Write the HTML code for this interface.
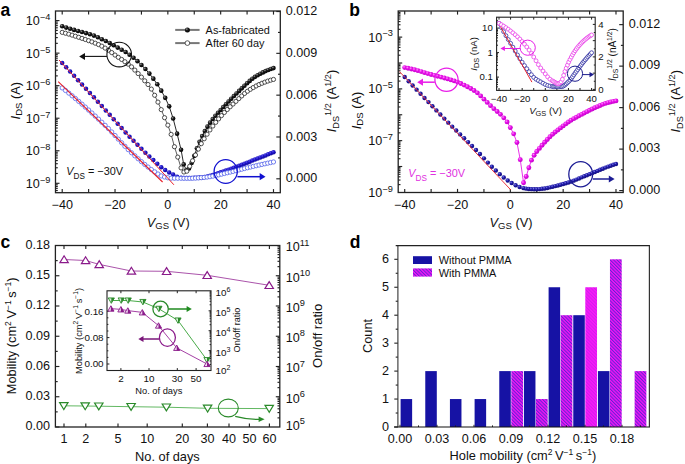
<!DOCTYPE html>
<html><head><meta charset="utf-8"><style>
html,body{margin:0;padding:0;background:#fff;}
svg{display:block;font-family:"Liberation Sans", sans-serif;}
</style></head><body>
<svg width="685" height="464" viewBox="0 0 685 464">
<rect width="685" height="464" fill="#fff"/>
<defs>
<radialGradient id="gk" cx="0.36" cy="0.34" r="0.7"><stop offset="0" stop-color="#9a9a9a"/><stop offset="0.4" stop-color="#1a1a1a"/><stop offset="1" stop-color="#000"/></radialGradient>
<radialGradient id="gm" cx="0.36" cy="0.34" r="0.7"><stop offset="0" stop-color="#ff90ff"/><stop offset="0.4" stop-color="#e810e8"/><stop offset="1" stop-color="#c000c8"/></radialGradient>
<radialGradient id="gb" cx="0.36" cy="0.34" r="0.7"><stop offset="0" stop-color="#5a50f0"/><stop offset="0.45" stop-color="#1c12c4"/><stop offset="1" stop-color="#120a9c"/></radialGradient>
<radialGradient id="gn" cx="0.36" cy="0.34" r="0.7"><stop offset="0" stop-color="#7a7ae8"/><stop offset="0.42" stop-color="#1e18a6"/><stop offset="1" stop-color="#120e7c"/></radialGradient>
<pattern id="hatch" patternUnits="userSpaceOnUse" width="2.4" height="2.4" patternTransform="rotate(-45)"><rect width="2.4" height="2.4" fill="#f414f4"/><rect x="0" y="0" width="1.0" height="2.4" fill="#6224d4"/></pattern>
<pattern id="hatch2" patternUnits="userSpaceOnUse" width="2.4" height="2.4" patternTransform="rotate(-45)"><rect width="2.4" height="2.4" fill="#fa18fa"/><rect x="0" y="0" width="1.0" height="2.4" fill="#d020ea"/></pattern>
</defs>
<text transform="translate(0.6,15.5)" font-size="17.5" font-weight="bold" fill="#000">a</text>
<line x1="62.21" y1="192.7" x2="62.21" y2="189.1" stroke="#222" stroke-width="1.15"/>
<line x1="62.21" y1="11" x2="62.21" y2="14.6" stroke="#222" stroke-width="1.15"/>
<line x1="88.62" y1="192.7" x2="88.62" y2="189.1" stroke="#222" stroke-width="1.15"/>
<line x1="88.62" y1="11" x2="88.62" y2="14.6" stroke="#222" stroke-width="1.15"/>
<line x1="115.03" y1="192.7" x2="115.03" y2="189.1" stroke="#222" stroke-width="1.15"/>
<line x1="115.03" y1="11" x2="115.03" y2="14.6" stroke="#222" stroke-width="1.15"/>
<line x1="141.44" y1="192.7" x2="141.44" y2="189.1" stroke="#222" stroke-width="1.15"/>
<line x1="141.44" y1="11" x2="141.44" y2="14.6" stroke="#222" stroke-width="1.15"/>
<line x1="167.85" y1="192.7" x2="167.85" y2="189.1" stroke="#222" stroke-width="1.15"/>
<line x1="167.85" y1="11" x2="167.85" y2="14.6" stroke="#222" stroke-width="1.15"/>
<line x1="194.26" y1="192.7" x2="194.26" y2="189.1" stroke="#222" stroke-width="1.15"/>
<line x1="194.26" y1="11" x2="194.26" y2="14.6" stroke="#222" stroke-width="1.15"/>
<line x1="220.67" y1="192.7" x2="220.67" y2="189.1" stroke="#222" stroke-width="1.15"/>
<line x1="220.67" y1="11" x2="220.67" y2="14.6" stroke="#222" stroke-width="1.15"/>
<line x1="247.08" y1="192.7" x2="247.08" y2="189.1" stroke="#222" stroke-width="1.15"/>
<line x1="247.08" y1="11" x2="247.08" y2="14.6" stroke="#222" stroke-width="1.15"/>
<line x1="273.49" y1="192.7" x2="273.49" y2="189.1" stroke="#222" stroke-width="1.15"/>
<line x1="273.49" y1="11" x2="273.49" y2="14.6" stroke="#222" stroke-width="1.15"/>
<text transform="translate(62.21,208.6) scale(1.05,1)" font-size="12" text-anchor="middle" fill="#111">−40</text>
<text transform="translate(115.03,208.6) scale(1.05,1)" font-size="12" text-anchor="middle" fill="#111">−20</text>
<text transform="translate(167.85,208.6) scale(1.05,1)" font-size="12" text-anchor="middle" fill="#111">0</text>
<text transform="translate(220.67,208.6) scale(1.05,1)" font-size="12" text-anchor="middle" fill="#111">20</text>
<text transform="translate(273.49,208.6) scale(1.05,1)" font-size="12" text-anchor="middle" fill="#111">40</text>
<line x1="55.5" y1="190.52" x2="57.8" y2="190.52" stroke="#222" stroke-width="1.15"/>
<line x1="55.5" y1="188.34" x2="57.8" y2="188.34" stroke="#222" stroke-width="1.15"/>
<line x1="55.5" y1="186.45" x2="57.8" y2="186.45" stroke="#222" stroke-width="1.15"/>
<line x1="55.5" y1="184.79" x2="57.8" y2="184.79" stroke="#222" stroke-width="1.15"/>
<line x1="55.5" y1="183.3" x2="59.5" y2="183.3" stroke="#222" stroke-width="1.15"/>
<line x1="55.5" y1="173.5" x2="57.8" y2="173.5" stroke="#222" stroke-width="1.15"/>
<line x1="55.5" y1="167.77" x2="57.8" y2="167.77" stroke="#222" stroke-width="1.15"/>
<line x1="55.5" y1="163.71" x2="57.8" y2="163.71" stroke="#222" stroke-width="1.15"/>
<line x1="55.5" y1="160.56" x2="57.8" y2="160.56" stroke="#222" stroke-width="1.15"/>
<line x1="55.5" y1="157.98" x2="57.8" y2="157.98" stroke="#222" stroke-width="1.15"/>
<line x1="55.5" y1="155.8" x2="57.8" y2="155.8" stroke="#222" stroke-width="1.15"/>
<line x1="55.5" y1="153.91" x2="57.8" y2="153.91" stroke="#222" stroke-width="1.15"/>
<line x1="55.5" y1="152.25" x2="57.8" y2="152.25" stroke="#222" stroke-width="1.15"/>
<line x1="55.5" y1="150.76" x2="59.5" y2="150.76" stroke="#222" stroke-width="1.15"/>
<line x1="55.5" y1="140.96" x2="57.8" y2="140.96" stroke="#222" stroke-width="1.15"/>
<line x1="55.5" y1="135.23" x2="57.8" y2="135.23" stroke="#222" stroke-width="1.15"/>
<line x1="55.5" y1="131.17" x2="57.8" y2="131.17" stroke="#222" stroke-width="1.15"/>
<line x1="55.5" y1="128.02" x2="57.8" y2="128.02" stroke="#222" stroke-width="1.15"/>
<line x1="55.5" y1="125.44" x2="57.8" y2="125.44" stroke="#222" stroke-width="1.15"/>
<line x1="55.5" y1="123.26" x2="57.8" y2="123.26" stroke="#222" stroke-width="1.15"/>
<line x1="55.5" y1="121.37" x2="57.8" y2="121.37" stroke="#222" stroke-width="1.15"/>
<line x1="55.5" y1="119.71" x2="57.8" y2="119.71" stroke="#222" stroke-width="1.15"/>
<line x1="55.5" y1="118.22" x2="59.5" y2="118.22" stroke="#222" stroke-width="1.15"/>
<line x1="55.5" y1="108.42" x2="57.8" y2="108.42" stroke="#222" stroke-width="1.15"/>
<line x1="55.5" y1="102.69" x2="57.8" y2="102.69" stroke="#222" stroke-width="1.15"/>
<line x1="55.5" y1="98.63" x2="57.8" y2="98.63" stroke="#222" stroke-width="1.15"/>
<line x1="55.5" y1="95.48" x2="57.8" y2="95.48" stroke="#222" stroke-width="1.15"/>
<line x1="55.5" y1="92.9" x2="57.8" y2="92.9" stroke="#222" stroke-width="1.15"/>
<line x1="55.5" y1="90.72" x2="57.8" y2="90.72" stroke="#222" stroke-width="1.15"/>
<line x1="55.5" y1="88.83" x2="57.8" y2="88.83" stroke="#222" stroke-width="1.15"/>
<line x1="55.5" y1="87.17" x2="57.8" y2="87.17" stroke="#222" stroke-width="1.15"/>
<line x1="55.5" y1="85.68" x2="59.5" y2="85.68" stroke="#222" stroke-width="1.15"/>
<line x1="55.5" y1="75.88" x2="57.8" y2="75.88" stroke="#222" stroke-width="1.15"/>
<line x1="55.5" y1="70.15" x2="57.8" y2="70.15" stroke="#222" stroke-width="1.15"/>
<line x1="55.5" y1="66.09" x2="57.8" y2="66.09" stroke="#222" stroke-width="1.15"/>
<line x1="55.5" y1="62.94" x2="57.8" y2="62.94" stroke="#222" stroke-width="1.15"/>
<line x1="55.5" y1="60.36" x2="57.8" y2="60.36" stroke="#222" stroke-width="1.15"/>
<line x1="55.5" y1="58.18" x2="57.8" y2="58.18" stroke="#222" stroke-width="1.15"/>
<line x1="55.5" y1="56.29" x2="57.8" y2="56.29" stroke="#222" stroke-width="1.15"/>
<line x1="55.5" y1="54.63" x2="57.8" y2="54.63" stroke="#222" stroke-width="1.15"/>
<line x1="55.5" y1="53.14" x2="59.5" y2="53.14" stroke="#222" stroke-width="1.15"/>
<line x1="55.5" y1="43.34" x2="57.8" y2="43.34" stroke="#222" stroke-width="1.15"/>
<line x1="55.5" y1="37.61" x2="57.8" y2="37.61" stroke="#222" stroke-width="1.15"/>
<line x1="55.5" y1="33.55" x2="57.8" y2="33.55" stroke="#222" stroke-width="1.15"/>
<line x1="55.5" y1="30.4" x2="57.8" y2="30.4" stroke="#222" stroke-width="1.15"/>
<line x1="55.5" y1="27.82" x2="57.8" y2="27.82" stroke="#222" stroke-width="1.15"/>
<line x1="55.5" y1="25.64" x2="57.8" y2="25.64" stroke="#222" stroke-width="1.15"/>
<line x1="55.5" y1="23.75" x2="57.8" y2="23.75" stroke="#222" stroke-width="1.15"/>
<line x1="55.5" y1="22.09" x2="57.8" y2="22.09" stroke="#222" stroke-width="1.15"/>
<line x1="55.5" y1="20.6" x2="59.5" y2="20.6" stroke="#222" stroke-width="1.15"/>
<text transform="translate(50.3,188) scale(1.05,1)" font-size="12" text-anchor="end" fill="#111">10<tspan dy="-5.3" font-size="8.8">−9</tspan></text>
<text transform="translate(50.3,155.46) scale(1.05,1)" font-size="12" text-anchor="end" fill="#111">10<tspan dy="-5.3" font-size="8.8">−8</tspan></text>
<text transform="translate(50.3,122.92) scale(1.05,1)" font-size="12" text-anchor="end" fill="#111">10<tspan dy="-5.3" font-size="8.8">−7</tspan></text>
<text transform="translate(50.3,90.38) scale(1.05,1)" font-size="12" text-anchor="end" fill="#111">10<tspan dy="-5.3" font-size="8.8">−6</tspan></text>
<text transform="translate(50.3,57.84) scale(1.05,1)" font-size="12" text-anchor="end" fill="#111">10<tspan dy="-5.3" font-size="8.8">−5</tspan></text>
<text transform="translate(50.3,25.3) scale(1.05,1)" font-size="12" text-anchor="end" fill="#111">10<tspan dy="-5.3" font-size="8.8">−4</tspan></text>
<line x1="280.3" y1="178.8" x2="276.3" y2="178.8" stroke="#222" stroke-width="1.15"/>
<line x1="280.3" y1="157.89" x2="278" y2="157.89" stroke="#222" stroke-width="1.15"/>
<line x1="280.3" y1="136.98" x2="276.3" y2="136.98" stroke="#222" stroke-width="1.15"/>
<line x1="280.3" y1="116.07" x2="278" y2="116.07" stroke="#222" stroke-width="1.15"/>
<line x1="280.3" y1="95.16" x2="276.3" y2="95.16" stroke="#222" stroke-width="1.15"/>
<line x1="280.3" y1="74.25" x2="278" y2="74.25" stroke="#222" stroke-width="1.15"/>
<line x1="280.3" y1="53.34" x2="276.3" y2="53.34" stroke="#222" stroke-width="1.15"/>
<line x1="280.3" y1="32.43" x2="278" y2="32.43" stroke="#222" stroke-width="1.15"/>
<line x1="280.3" y1="11.52" x2="276.3" y2="11.52" stroke="#222" stroke-width="1.15"/>
<text transform="translate(285.8,182.4) scale(1.05,1)" font-size="12" fill="#111">0.000</text>
<text transform="translate(285.8,140.58) scale(1.05,1)" font-size="12" fill="#111">0.003</text>
<text transform="translate(285.8,98.76) scale(1.05,1)" font-size="12" fill="#111">0.006</text>
<text transform="translate(285.8,56.94) scale(1.05,1)" font-size="12" fill="#111">0.009</text>
<text transform="translate(285.8,15.12) scale(1.05,1)" font-size="12" fill="#111">0.012</text>
<text transform="translate(168.2,226.6)" font-size="12.8" text-anchor="middle" fill="#111"><tspan font-style="italic">V</tspan><tspan dy="2.6" font-size="9.5">GS</tspan><tspan dy="-2.6"> (V)</tspan></text>
<text transform="translate(19.6,100.7) rotate(-90)" font-size="12.8" text-anchor="middle" fill="#111"><tspan font-style="italic">I</tspan><tspan dy="2.6" font-size="9.5">DS</tspan><tspan dy="-2.6"> (A)</tspan></text>
<text transform="translate(336.2,101) rotate(-90)" font-size="12.8" text-anchor="middle" fill="#111"><tspan font-style="italic">I</tspan><tspan dy="2.4" font-size="9.2">DS</tspan><tspan dy="-7.4" font-size="9.2">1/2</tspan><tspan dy="5"> (A</tspan><tspan dy="-5" font-size="9.2">1/2</tspan><tspan dy="5">)</tspan></text>
<text transform="translate(66.2,174.8) scale(0.99,1)" font-size="11" fill="#111"><tspan font-style="italic">V</tspan><tspan dy="3.9" font-size="8.3">DS</tspan><tspan dy="-3.9"> = −30V</tspan></text>
<line x1="175.2" y1="29.9" x2="199.6" y2="29.9" stroke="#777" stroke-width="2"/>
<circle cx="187.4" cy="29.9" r="2.5" fill="url(#gk)"/>
<line x1="175.2" y1="43.1" x2="199.6" y2="43.1" stroke="#777" stroke-width="2"/>
<circle cx="187.4" cy="43.1" r="2.35" fill="#fff" stroke="#333" stroke-width="0.8"/>
<text transform="translate(205.6,33.6) scale(1.06,1)" font-size="10.3" fill="#111">As-fabricated</text>
<text transform="translate(205.6,46.6) scale(1.06,1)" font-size="10.3" fill="#111">After 60 day</text>
<polyline points="62.21,32.37 65.51,33.22 68.81,34.14 72.11,35.14 75.41,36.21 78.72,37.3 82.02,38.38 85.32,39.5 88.62,40.66 91.92,41.87 95.22,43.17 98.52,44.57 101.82,46.17 105.13,48.09 108.43,50.25 111.73,52.58 115.03,55.06 118.33,57.33 121.63,59.46 124.93,61.73 128.23,64.15 131.54,66.87 134.84,70.11 138.14,73.57 141.44,77.13 144.74,80.83 148.04,84.52 151.34,89.07 154.64,95.25 157.95,102.11 161.25,109.64 164.55,117.69 167.85,125.13 171.15,134.4 174.45,146.74 177.75,157.11 181.06,167.92 183.94,171.99 186.83,171.2 189.72,166.28 192.61,160.75 195.5,155.01 198.39,149.1 201.28,143.67 204.16,138.78 207.05,134.22 209.94,129.97 212.83,126.04 215.72,122.35 218.61,118.87 221.5,115.58 224.38,112.45 227.27,109.51 230.16,106.73 233.05,104.03 235.94,101.34 238.83,98.61 241.72,95.93 244.6,93.42 247.49,91.21 250.38,89.3 253.27,87.54 256.16,85.95 259.05,84.53 261.94,83.28 264.82,82.14 267.71,81.1 270.6,80.19 273.49,79.43" fill="none" stroke="#333" stroke-width="0.8" stroke-linejoin="round"/>
<polyline points="62.21,26.31 66.17,27.61 70.13,28.81 74.09,29.89 78.06,30.93 82.02,31.99 85.98,33.09 89.94,34.27 93.9,35.59 97.86,37.3 101.82,39.22 105.79,41.02 109.75,42.93 113.71,45.22 117.67,47.6 121.63,49.75 125.59,52.01 129.56,54.69 133.52,57.73 137.48,61.15 141.44,64.94 145.4,69.07 149.36,73.62 153.32,78.66 157.29,84.28 161.25,90.67 165.21,97.84 169.17,106.33 173.13,118.53 177.09,133.67 181.06,149.7 183.7,164.36 186.34,169.95 188.98,168.56 191.62,162.91 194.26,155.83 196.9,148.25 199.54,141.86 202.18,136.08 204.82,131.09 207.47,126.64 210.11,122.63 212.75,119.02 215.39,115.78 218.03,112.8 220.67,109.94 223.31,107.07 225.95,104.23 228.59,101.43 231.23,98.7 233.88,96.04 236.52,93.46 239.16,90.92 241.8,88.34 244.44,85.77 247.08,83.27 249.72,80.92 252.36,78.77 255,76.87 257.64,75.27 260.28,73.78 262.93,72.38 265.57,71.09 268.21,69.93 270.85,68.94 273.49,68.11" fill="none" stroke="#111" stroke-width="0.9" stroke-linejoin="round"/>
<circle cx="62.21" cy="63.03" r="2.25" fill="url(#gb)"/>
<circle cx="66.17" cy="67.3" r="2.25" fill="url(#gb)"/>
<circle cx="70.13" cy="71.58" r="2.25" fill="url(#gb)"/>
<circle cx="74.09" cy="75.86" r="2.25" fill="url(#gb)"/>
<circle cx="78.06" cy="80.15" r="2.25" fill="url(#gb)"/>
<circle cx="82.02" cy="84.44" r="2.25" fill="url(#gb)"/>
<circle cx="85.98" cy="88.74" r="2.25" fill="url(#gb)"/>
<circle cx="89.94" cy="93.05" r="2.25" fill="url(#gb)"/>
<circle cx="93.9" cy="97.36" r="2.25" fill="url(#gb)"/>
<circle cx="97.86" cy="101.67" r="2.25" fill="url(#gb)"/>
<circle cx="101.82" cy="106" r="2.25" fill="url(#gb)"/>
<circle cx="105.79" cy="110.38" r="2.25" fill="url(#gb)"/>
<circle cx="109.75" cy="114.8" r="2.25" fill="url(#gb)"/>
<circle cx="113.71" cy="119.24" r="2.25" fill="url(#gb)"/>
<circle cx="117.67" cy="123.67" r="2.25" fill="url(#gb)"/>
<circle cx="121.63" cy="128.07" r="2.25" fill="url(#gb)"/>
<circle cx="125.59" cy="132.4" r="2.25" fill="url(#gb)"/>
<circle cx="129.56" cy="136.66" r="2.25" fill="url(#gb)"/>
<circle cx="133.52" cy="140.8" r="2.25" fill="url(#gb)"/>
<circle cx="137.48" cy="144.83" r="2.25" fill="url(#gb)"/>
<circle cx="141.44" cy="148.77" r="2.25" fill="url(#gb)"/>
<circle cx="145.4" cy="152.63" r="2.25" fill="url(#gb)"/>
<circle cx="149.36" cy="156.41" r="2.25" fill="url(#gb)"/>
<circle cx="153.32" cy="160.1" r="2.25" fill="url(#gb)"/>
<circle cx="157.29" cy="163.76" r="2.25" fill="url(#gb)"/>
<circle cx="161.25" cy="167.21" r="2.25" fill="url(#gb)"/>
<circle cx="165.21" cy="170.1" r="2.25" fill="url(#gb)"/>
<circle cx="169.17" cy="172.58" r="2.25" fill="url(#gb)"/>
<circle cx="173.13" cy="174.62" r="2.25" fill="url(#gb)"/>
<circle cx="177.09" cy="176.7" r="2.25" fill="url(#gb)"/>
<circle cx="181.06" cy="177.63" r="2.25" fill="url(#gb)"/>
<circle cx="183.7" cy="177.95" r="2.25" fill="url(#gb)"/>
<circle cx="186.34" cy="178" r="2.25" fill="url(#gb)"/>
<circle cx="188.98" cy="177.97" r="2.25" fill="url(#gb)"/>
<circle cx="191.62" cy="177.91" r="2.25" fill="url(#gb)"/>
<circle cx="194.26" cy="177.83" r="2.25" fill="url(#gb)"/>
<circle cx="196.9" cy="177.73" r="2.25" fill="url(#gb)"/>
<circle cx="199.54" cy="177.62" r="2.25" fill="url(#gb)"/>
<circle cx="202.18" cy="177.43" r="2.25" fill="url(#gb)"/>
<circle cx="204.82" cy="177.04" r="2.25" fill="url(#gb)"/>
<circle cx="207.47" cy="176.49" r="2.25" fill="url(#gb)"/>
<circle cx="210.11" cy="175.8" r="2.25" fill="url(#gb)"/>
<circle cx="212.75" cy="175" r="2.25" fill="url(#gb)"/>
<circle cx="215.39" cy="174.13" r="2.25" fill="url(#gb)"/>
<circle cx="218.03" cy="173.22" r="2.25" fill="url(#gb)"/>
<circle cx="220.67" cy="172.29" r="2.25" fill="url(#gb)"/>
<circle cx="223.31" cy="171.38" r="2.25" fill="url(#gb)"/>
<circle cx="225.95" cy="170.52" r="2.25" fill="url(#gb)"/>
<circle cx="228.59" cy="169.65" r="2.25" fill="url(#gb)"/>
<circle cx="231.23" cy="168.74" r="2.25" fill="url(#gb)"/>
<circle cx="233.88" cy="167.78" r="2.25" fill="url(#gb)"/>
<circle cx="236.52" cy="166.79" r="2.25" fill="url(#gb)"/>
<circle cx="239.16" cy="165.78" r="2.25" fill="url(#gb)"/>
<circle cx="241.8" cy="164.75" r="2.25" fill="url(#gb)"/>
<circle cx="244.44" cy="163.71" r="2.25" fill="url(#gb)"/>
<circle cx="247.08" cy="162.67" r="2.25" fill="url(#gb)"/>
<circle cx="249.72" cy="161.64" r="2.25" fill="url(#gb)"/>
<circle cx="252.36" cy="160.62" r="2.25" fill="url(#gb)"/>
<circle cx="255" cy="159.59" r="2.25" fill="url(#gb)"/>
<circle cx="257.64" cy="158.55" r="2.25" fill="url(#gb)"/>
<circle cx="260.28" cy="157.51" r="2.25" fill="url(#gb)"/>
<circle cx="262.93" cy="156.46" r="2.25" fill="url(#gb)"/>
<circle cx="265.57" cy="155.4" r="2.25" fill="url(#gb)"/>
<circle cx="268.21" cy="154.33" r="2.25" fill="url(#gb)"/>
<circle cx="270.85" cy="153.26" r="2.25" fill="url(#gb)"/>
<circle cx="273.49" cy="152.18" r="2.25" fill="url(#gb)"/>
<circle cx="62.21" cy="87.89" r="2.15" fill="#fff" stroke="#4858e8" stroke-width="0.75"/>
<circle cx="65.51" cy="90.46" r="2.15" fill="#fff" stroke="#4858e8" stroke-width="0.75"/>
<circle cx="68.81" cy="93.09" r="2.15" fill="#fff" stroke="#4858e8" stroke-width="0.75"/>
<circle cx="72.11" cy="95.79" r="2.15" fill="#fff" stroke="#4858e8" stroke-width="0.75"/>
<circle cx="75.41" cy="98.54" r="2.15" fill="#fff" stroke="#4858e8" stroke-width="0.75"/>
<circle cx="78.72" cy="101.34" r="2.15" fill="#fff" stroke="#4858e8" stroke-width="0.75"/>
<circle cx="82.02" cy="104.19" r="2.15" fill="#fff" stroke="#4858e8" stroke-width="0.75"/>
<circle cx="85.32" cy="107.1" r="2.15" fill="#fff" stroke="#4858e8" stroke-width="0.75"/>
<circle cx="88.62" cy="110.05" r="2.15" fill="#fff" stroke="#4858e8" stroke-width="0.75"/>
<circle cx="91.92" cy="113.04" r="2.15" fill="#fff" stroke="#4858e8" stroke-width="0.75"/>
<circle cx="95.22" cy="116.07" r="2.15" fill="#fff" stroke="#4858e8" stroke-width="0.75"/>
<circle cx="98.52" cy="119.15" r="2.15" fill="#fff" stroke="#4858e8" stroke-width="0.75"/>
<circle cx="101.82" cy="122.25" r="2.15" fill="#fff" stroke="#4858e8" stroke-width="0.75"/>
<circle cx="105.13" cy="125.39" r="2.15" fill="#fff" stroke="#4858e8" stroke-width="0.75"/>
<circle cx="108.43" cy="128.59" r="2.15" fill="#fff" stroke="#4858e8" stroke-width="0.75"/>
<circle cx="111.73" cy="131.99" r="2.15" fill="#fff" stroke="#4858e8" stroke-width="0.75"/>
<circle cx="115.03" cy="135.54" r="2.15" fill="#fff" stroke="#4858e8" stroke-width="0.75"/>
<circle cx="118.33" cy="139.16" r="2.15" fill="#fff" stroke="#4858e8" stroke-width="0.75"/>
<circle cx="121.63" cy="142.77" r="2.15" fill="#fff" stroke="#4858e8" stroke-width="0.75"/>
<circle cx="124.93" cy="146.29" r="2.15" fill="#fff" stroke="#4858e8" stroke-width="0.75"/>
<circle cx="128.23" cy="149.65" r="2.15" fill="#fff" stroke="#4858e8" stroke-width="0.75"/>
<circle cx="131.54" cy="152.77" r="2.15" fill="#fff" stroke="#4858e8" stroke-width="0.75"/>
<circle cx="134.84" cy="155.79" r="2.15" fill="#fff" stroke="#4858e8" stroke-width="0.75"/>
<circle cx="138.14" cy="158.76" r="2.15" fill="#fff" stroke="#4858e8" stroke-width="0.75"/>
<circle cx="141.44" cy="161.65" r="2.15" fill="#fff" stroke="#4858e8" stroke-width="0.75"/>
<circle cx="144.74" cy="164.43" r="2.15" fill="#fff" stroke="#4858e8" stroke-width="0.75"/>
<circle cx="148.04" cy="167.07" r="2.15" fill="#fff" stroke="#4858e8" stroke-width="0.75"/>
<circle cx="151.34" cy="169.55" r="2.15" fill="#fff" stroke="#4858e8" stroke-width="0.75"/>
<circle cx="154.64" cy="171.84" r="2.15" fill="#fff" stroke="#4858e8" stroke-width="0.75"/>
<circle cx="157.95" cy="174.02" r="2.15" fill="#fff" stroke="#4858e8" stroke-width="0.75"/>
<circle cx="161.25" cy="175.94" r="2.15" fill="#fff" stroke="#4858e8" stroke-width="0.75"/>
<circle cx="164.55" cy="177.01" r="2.15" fill="#fff" stroke="#4858e8" stroke-width="0.75"/>
<circle cx="167.85" cy="177.76" r="2.15" fill="#fff" stroke="#4858e8" stroke-width="0.75"/>
<circle cx="171.15" cy="178.17" r="2.15" fill="#fff" stroke="#4858e8" stroke-width="0.75"/>
<circle cx="174.45" cy="178.23" r="2.15" fill="#fff" stroke="#4858e8" stroke-width="0.75"/>
<circle cx="177.75" cy="178.26" r="2.15" fill="#fff" stroke="#4858e8" stroke-width="0.75"/>
<circle cx="181.06" cy="178.28" r="2.15" fill="#fff" stroke="#4858e8" stroke-width="0.75"/>
<circle cx="183.94" cy="178.29" r="2.15" fill="#fff" stroke="#4858e8" stroke-width="0.75"/>
<circle cx="186.83" cy="178.3" r="2.15" fill="#fff" stroke="#4858e8" stroke-width="0.75"/>
<circle cx="189.72" cy="178.3" r="2.15" fill="#fff" stroke="#4858e8" stroke-width="0.75"/>
<circle cx="192.61" cy="178.26" r="2.15" fill="#fff" stroke="#4858e8" stroke-width="0.75"/>
<circle cx="195.5" cy="178.13" r="2.15" fill="#fff" stroke="#4858e8" stroke-width="0.75"/>
<circle cx="198.39" cy="177.93" r="2.15" fill="#fff" stroke="#4858e8" stroke-width="0.75"/>
<circle cx="201.28" cy="177.68" r="2.15" fill="#fff" stroke="#4858e8" stroke-width="0.75"/>
<circle cx="204.16" cy="177.41" r="2.15" fill="#fff" stroke="#4858e8" stroke-width="0.75"/>
<circle cx="207.05" cy="177.11" r="2.15" fill="#fff" stroke="#4858e8" stroke-width="0.75"/>
<circle cx="209.94" cy="176.68" r="2.15" fill="#fff" stroke="#4858e8" stroke-width="0.75"/>
<circle cx="212.83" cy="176.15" r="2.15" fill="#fff" stroke="#4858e8" stroke-width="0.75"/>
<circle cx="215.72" cy="175.53" r="2.15" fill="#fff" stroke="#4858e8" stroke-width="0.75"/>
<circle cx="218.61" cy="174.86" r="2.15" fill="#fff" stroke="#4858e8" stroke-width="0.75"/>
<circle cx="221.5" cy="174.16" r="2.15" fill="#fff" stroke="#4858e8" stroke-width="0.75"/>
<circle cx="224.38" cy="173.45" r="2.15" fill="#fff" stroke="#4858e8" stroke-width="0.75"/>
<circle cx="227.27" cy="172.77" r="2.15" fill="#fff" stroke="#4858e8" stroke-width="0.75"/>
<circle cx="230.16" cy="172.1" r="2.15" fill="#fff" stroke="#4858e8" stroke-width="0.75"/>
<circle cx="233.05" cy="171.4" r="2.15" fill="#fff" stroke="#4858e8" stroke-width="0.75"/>
<circle cx="235.94" cy="170.68" r="2.15" fill="#fff" stroke="#4858e8" stroke-width="0.75"/>
<circle cx="238.83" cy="169.94" r="2.15" fill="#fff" stroke="#4858e8" stroke-width="0.75"/>
<circle cx="241.72" cy="169.2" r="2.15" fill="#fff" stroke="#4858e8" stroke-width="0.75"/>
<circle cx="244.6" cy="168.47" r="2.15" fill="#fff" stroke="#4858e8" stroke-width="0.75"/>
<circle cx="247.49" cy="167.75" r="2.15" fill="#fff" stroke="#4858e8" stroke-width="0.75"/>
<circle cx="250.38" cy="167.05" r="2.15" fill="#fff" stroke="#4858e8" stroke-width="0.75"/>
<circle cx="253.27" cy="166.38" r="2.15" fill="#fff" stroke="#4858e8" stroke-width="0.75"/>
<circle cx="256.16" cy="165.72" r="2.15" fill="#fff" stroke="#4858e8" stroke-width="0.75"/>
<circle cx="259.05" cy="165.06" r="2.15" fill="#fff" stroke="#4858e8" stroke-width="0.75"/>
<circle cx="261.94" cy="164.42" r="2.15" fill="#fff" stroke="#4858e8" stroke-width="0.75"/>
<circle cx="264.82" cy="163.78" r="2.15" fill="#fff" stroke="#4858e8" stroke-width="0.75"/>
<circle cx="267.71" cy="163.16" r="2.15" fill="#fff" stroke="#4858e8" stroke-width="0.75"/>
<circle cx="270.6" cy="162.54" r="2.15" fill="#fff" stroke="#4858e8" stroke-width="0.75"/>
<circle cx="273.49" cy="161.94" r="2.15" fill="#fff" stroke="#4858e8" stroke-width="0.75"/>
<line x1="58.2" y1="81.6" x2="162.6" y2="182" stroke="#e8202a" stroke-width="1.1"/>
<line x1="59" y1="60" x2="173.9" y2="184.8" stroke="#e8202a" stroke-width="1"/>
<circle cx="62.21" cy="26.31" r="2.3" fill="url(#gk)"/>
<circle cx="66.17" cy="27.61" r="2.3" fill="url(#gk)"/>
<circle cx="70.13" cy="28.81" r="2.3" fill="url(#gk)"/>
<circle cx="74.09" cy="29.89" r="2.3" fill="url(#gk)"/>
<circle cx="78.06" cy="30.93" r="2.3" fill="url(#gk)"/>
<circle cx="82.02" cy="31.99" r="2.3" fill="url(#gk)"/>
<circle cx="85.98" cy="33.09" r="2.3" fill="url(#gk)"/>
<circle cx="89.94" cy="34.27" r="2.3" fill="url(#gk)"/>
<circle cx="93.9" cy="35.59" r="2.3" fill="url(#gk)"/>
<circle cx="97.86" cy="37.3" r="2.3" fill="url(#gk)"/>
<circle cx="101.82" cy="39.22" r="2.3" fill="url(#gk)"/>
<circle cx="105.79" cy="41.02" r="2.3" fill="url(#gk)"/>
<circle cx="109.75" cy="42.93" r="2.3" fill="url(#gk)"/>
<circle cx="113.71" cy="45.22" r="2.3" fill="url(#gk)"/>
<circle cx="117.67" cy="47.6" r="2.3" fill="url(#gk)"/>
<circle cx="121.63" cy="49.75" r="2.3" fill="url(#gk)"/>
<circle cx="125.59" cy="52.01" r="2.3" fill="url(#gk)"/>
<circle cx="129.56" cy="54.69" r="2.3" fill="url(#gk)"/>
<circle cx="133.52" cy="57.73" r="2.3" fill="url(#gk)"/>
<circle cx="137.48" cy="61.15" r="2.3" fill="url(#gk)"/>
<circle cx="141.44" cy="64.94" r="2.3" fill="url(#gk)"/>
<circle cx="145.4" cy="69.07" r="2.3" fill="url(#gk)"/>
<circle cx="149.36" cy="73.62" r="2.3" fill="url(#gk)"/>
<circle cx="153.32" cy="78.66" r="2.3" fill="url(#gk)"/>
<circle cx="157.29" cy="84.28" r="2.3" fill="url(#gk)"/>
<circle cx="161.25" cy="90.67" r="2.3" fill="url(#gk)"/>
<circle cx="165.21" cy="97.84" r="2.3" fill="url(#gk)"/>
<circle cx="169.17" cy="106.33" r="2.3" fill="url(#gk)"/>
<circle cx="173.13" cy="118.53" r="2.3" fill="url(#gk)"/>
<circle cx="177.09" cy="133.67" r="2.3" fill="url(#gk)"/>
<circle cx="181.06" cy="149.7" r="2.3" fill="url(#gk)"/>
<circle cx="183.7" cy="164.36" r="2.3" fill="url(#gk)"/>
<circle cx="186.34" cy="169.95" r="2.3" fill="url(#gk)"/>
<circle cx="188.98" cy="168.56" r="2.3" fill="url(#gk)"/>
<circle cx="191.62" cy="162.91" r="2.3" fill="url(#gk)"/>
<circle cx="194.26" cy="155.83" r="2.3" fill="url(#gk)"/>
<circle cx="196.9" cy="148.25" r="2.3" fill="url(#gk)"/>
<circle cx="199.54" cy="141.86" r="2.3" fill="url(#gk)"/>
<circle cx="202.18" cy="136.08" r="2.3" fill="url(#gk)"/>
<circle cx="204.82" cy="131.09" r="2.3" fill="url(#gk)"/>
<circle cx="207.47" cy="126.64" r="2.3" fill="url(#gk)"/>
<circle cx="210.11" cy="122.63" r="2.3" fill="url(#gk)"/>
<circle cx="212.75" cy="119.02" r="2.3" fill="url(#gk)"/>
<circle cx="215.39" cy="115.78" r="2.3" fill="url(#gk)"/>
<circle cx="218.03" cy="112.8" r="2.3" fill="url(#gk)"/>
<circle cx="220.67" cy="109.94" r="2.3" fill="url(#gk)"/>
<circle cx="223.31" cy="107.07" r="2.3" fill="url(#gk)"/>
<circle cx="225.95" cy="104.23" r="2.3" fill="url(#gk)"/>
<circle cx="228.59" cy="101.43" r="2.3" fill="url(#gk)"/>
<circle cx="231.23" cy="98.7" r="2.3" fill="url(#gk)"/>
<circle cx="233.88" cy="96.04" r="2.3" fill="url(#gk)"/>
<circle cx="236.52" cy="93.46" r="2.3" fill="url(#gk)"/>
<circle cx="239.16" cy="90.92" r="2.3" fill="url(#gk)"/>
<circle cx="241.8" cy="88.34" r="2.3" fill="url(#gk)"/>
<circle cx="244.44" cy="85.77" r="2.3" fill="url(#gk)"/>
<circle cx="247.08" cy="83.27" r="2.3" fill="url(#gk)"/>
<circle cx="249.72" cy="80.92" r="2.3" fill="url(#gk)"/>
<circle cx="252.36" cy="78.77" r="2.3" fill="url(#gk)"/>
<circle cx="255" cy="76.87" r="2.3" fill="url(#gk)"/>
<circle cx="257.64" cy="75.27" r="2.3" fill="url(#gk)"/>
<circle cx="260.28" cy="73.78" r="2.3" fill="url(#gk)"/>
<circle cx="262.93" cy="72.38" r="2.3" fill="url(#gk)"/>
<circle cx="265.57" cy="71.09" r="2.3" fill="url(#gk)"/>
<circle cx="268.21" cy="69.93" r="2.3" fill="url(#gk)"/>
<circle cx="270.85" cy="68.94" r="2.3" fill="url(#gk)"/>
<circle cx="273.49" cy="68.11" r="2.3" fill="url(#gk)"/>
<circle cx="62.21" cy="32.37" r="2.1" fill="#fff" stroke="#222" stroke-width="0.8"/>
<circle cx="65.51" cy="33.22" r="2.1" fill="#fff" stroke="#222" stroke-width="0.8"/>
<circle cx="68.81" cy="34.14" r="2.1" fill="#fff" stroke="#222" stroke-width="0.8"/>
<circle cx="72.11" cy="35.14" r="2.1" fill="#fff" stroke="#222" stroke-width="0.8"/>
<circle cx="75.41" cy="36.21" r="2.1" fill="#fff" stroke="#222" stroke-width="0.8"/>
<circle cx="78.72" cy="37.3" r="2.1" fill="#fff" stroke="#222" stroke-width="0.8"/>
<circle cx="82.02" cy="38.38" r="2.1" fill="#fff" stroke="#222" stroke-width="0.8"/>
<circle cx="85.32" cy="39.5" r="2.1" fill="#fff" stroke="#222" stroke-width="0.8"/>
<circle cx="88.62" cy="40.66" r="2.1" fill="#fff" stroke="#222" stroke-width="0.8"/>
<circle cx="91.92" cy="41.87" r="2.1" fill="#fff" stroke="#222" stroke-width="0.8"/>
<circle cx="95.22" cy="43.17" r="2.1" fill="#fff" stroke="#222" stroke-width="0.8"/>
<circle cx="98.52" cy="44.57" r="2.1" fill="#fff" stroke="#222" stroke-width="0.8"/>
<circle cx="101.82" cy="46.17" r="2.1" fill="#fff" stroke="#222" stroke-width="0.8"/>
<circle cx="105.13" cy="48.09" r="2.1" fill="#fff" stroke="#222" stroke-width="0.8"/>
<circle cx="108.43" cy="50.25" r="2.1" fill="#fff" stroke="#222" stroke-width="0.8"/>
<circle cx="111.73" cy="52.58" r="2.1" fill="#fff" stroke="#222" stroke-width="0.8"/>
<circle cx="115.03" cy="55.06" r="2.1" fill="#fff" stroke="#222" stroke-width="0.8"/>
<circle cx="118.33" cy="57.33" r="2.1" fill="#fff" stroke="#222" stroke-width="0.8"/>
<circle cx="121.63" cy="59.46" r="2.1" fill="#fff" stroke="#222" stroke-width="0.8"/>
<circle cx="124.93" cy="61.73" r="2.1" fill="#fff" stroke="#222" stroke-width="0.8"/>
<circle cx="128.23" cy="64.15" r="2.1" fill="#fff" stroke="#222" stroke-width="0.8"/>
<circle cx="131.54" cy="66.87" r="2.1" fill="#fff" stroke="#222" stroke-width="0.8"/>
<circle cx="134.84" cy="70.11" r="2.1" fill="#fff" stroke="#222" stroke-width="0.8"/>
<circle cx="138.14" cy="73.57" r="2.1" fill="#fff" stroke="#222" stroke-width="0.8"/>
<circle cx="141.44" cy="77.13" r="2.1" fill="#fff" stroke="#222" stroke-width="0.8"/>
<circle cx="144.74" cy="80.83" r="2.1" fill="#fff" stroke="#222" stroke-width="0.8"/>
<circle cx="148.04" cy="84.52" r="2.1" fill="#fff" stroke="#222" stroke-width="0.8"/>
<circle cx="151.34" cy="89.07" r="2.1" fill="#fff" stroke="#222" stroke-width="0.8"/>
<circle cx="154.64" cy="95.25" r="2.1" fill="#fff" stroke="#222" stroke-width="0.8"/>
<circle cx="157.95" cy="102.11" r="2.1" fill="#fff" stroke="#222" stroke-width="0.8"/>
<circle cx="161.25" cy="109.64" r="2.1" fill="#fff" stroke="#222" stroke-width="0.8"/>
<circle cx="164.55" cy="117.69" r="2.1" fill="#fff" stroke="#222" stroke-width="0.8"/>
<circle cx="167.85" cy="125.13" r="2.1" fill="#fff" stroke="#222" stroke-width="0.8"/>
<circle cx="171.15" cy="134.4" r="2.1" fill="#fff" stroke="#222" stroke-width="0.8"/>
<circle cx="174.45" cy="146.74" r="2.1" fill="#fff" stroke="#222" stroke-width="0.8"/>
<circle cx="177.75" cy="157.11" r="2.1" fill="#fff" stroke="#222" stroke-width="0.8"/>
<circle cx="181.06" cy="167.92" r="2.1" fill="#fff" stroke="#222" stroke-width="0.8"/>
<circle cx="183.94" cy="171.99" r="2.1" fill="#fff" stroke="#222" stroke-width="0.8"/>
<circle cx="186.83" cy="171.2" r="2.1" fill="#fff" stroke="#222" stroke-width="0.8"/>
<circle cx="189.72" cy="166.28" r="2.1" fill="#fff" stroke="#222" stroke-width="0.8"/>
<circle cx="192.61" cy="160.75" r="2.1" fill="#fff" stroke="#222" stroke-width="0.8"/>
<circle cx="195.5" cy="155.01" r="2.1" fill="#fff" stroke="#222" stroke-width="0.8"/>
<circle cx="198.39" cy="149.1" r="2.1" fill="#fff" stroke="#222" stroke-width="0.8"/>
<circle cx="201.28" cy="143.67" r="2.1" fill="#fff" stroke="#222" stroke-width="0.8"/>
<circle cx="204.16" cy="138.78" r="2.1" fill="#fff" stroke="#222" stroke-width="0.8"/>
<circle cx="207.05" cy="134.22" r="2.1" fill="#fff" stroke="#222" stroke-width="0.8"/>
<circle cx="209.94" cy="129.97" r="2.1" fill="#fff" stroke="#222" stroke-width="0.8"/>
<circle cx="212.83" cy="126.04" r="2.1" fill="#fff" stroke="#222" stroke-width="0.8"/>
<circle cx="215.72" cy="122.35" r="2.1" fill="#fff" stroke="#222" stroke-width="0.8"/>
<circle cx="218.61" cy="118.87" r="2.1" fill="#fff" stroke="#222" stroke-width="0.8"/>
<circle cx="221.5" cy="115.58" r="2.1" fill="#fff" stroke="#222" stroke-width="0.8"/>
<circle cx="224.38" cy="112.45" r="2.1" fill="#fff" stroke="#222" stroke-width="0.8"/>
<circle cx="227.27" cy="109.51" r="2.1" fill="#fff" stroke="#222" stroke-width="0.8"/>
<circle cx="230.16" cy="106.73" r="2.1" fill="#fff" stroke="#222" stroke-width="0.8"/>
<circle cx="233.05" cy="104.03" r="2.1" fill="#fff" stroke="#222" stroke-width="0.8"/>
<circle cx="235.94" cy="101.34" r="2.1" fill="#fff" stroke="#222" stroke-width="0.8"/>
<circle cx="238.83" cy="98.61" r="2.1" fill="#fff" stroke="#222" stroke-width="0.8"/>
<circle cx="241.72" cy="95.93" r="2.1" fill="#fff" stroke="#222" stroke-width="0.8"/>
<circle cx="244.6" cy="93.42" r="2.1" fill="#fff" stroke="#222" stroke-width="0.8"/>
<circle cx="247.49" cy="91.21" r="2.1" fill="#fff" stroke="#222" stroke-width="0.8"/>
<circle cx="250.38" cy="89.3" r="2.1" fill="#fff" stroke="#222" stroke-width="0.8"/>
<circle cx="253.27" cy="87.54" r="2.1" fill="#fff" stroke="#222" stroke-width="0.8"/>
<circle cx="256.16" cy="85.95" r="2.1" fill="#fff" stroke="#222" stroke-width="0.8"/>
<circle cx="259.05" cy="84.53" r="2.1" fill="#fff" stroke="#222" stroke-width="0.8"/>
<circle cx="261.94" cy="83.28" r="2.1" fill="#fff" stroke="#222" stroke-width="0.8"/>
<circle cx="264.82" cy="82.14" r="2.1" fill="#fff" stroke="#222" stroke-width="0.8"/>
<circle cx="267.71" cy="81.1" r="2.1" fill="#fff" stroke="#222" stroke-width="0.8"/>
<circle cx="270.6" cy="80.19" r="2.1" fill="#fff" stroke="#222" stroke-width="0.8"/>
<circle cx="273.49" cy="79.43" r="2.1" fill="#fff" stroke="#222" stroke-width="0.8"/>
<ellipse cx="119.2" cy="54.6" rx="12.3" ry="12.3" fill="none" stroke="#111" stroke-width="1.1"/>
<line x1="107" y1="56.4" x2="84.5" y2="56.4" stroke="#111" stroke-width="1.1"/>
<polygon points="79.2,56.4 85,52.9 85,59.9" fill="#111"/>
<ellipse cx="225.7" cy="171.5" rx="11.6" ry="11.8" fill="none" stroke="#1010d0" stroke-width="1.3"/>
<line x1="237.4" y1="176.7" x2="260.2" y2="176.7" stroke="#1010d0" stroke-width="1.5"/>
<polygon points="265.5,176.7 259.7,180.3 259.7,173.1" fill="#1010d0"/>
<rect x="55.5" y="11" width="224.8" height="181.7" fill="none" stroke="#222" stroke-width="1.3"/>
<text transform="translate(349.3,15.6)" font-size="17.5" font-weight="bold" fill="#000">b</text>
<line x1="404.71" y1="192.5" x2="404.71" y2="188.9" stroke="#222" stroke-width="1.15"/>
<line x1="404.71" y1="11" x2="404.71" y2="14.6" stroke="#222" stroke-width="1.15"/>
<line x1="431.12" y1="192.5" x2="431.12" y2="188.9" stroke="#222" stroke-width="1.15"/>
<line x1="431.12" y1="11" x2="431.12" y2="14.6" stroke="#222" stroke-width="1.15"/>
<line x1="457.53" y1="192.5" x2="457.53" y2="188.9" stroke="#222" stroke-width="1.15"/>
<line x1="457.53" y1="11" x2="457.53" y2="14.6" stroke="#222" stroke-width="1.15"/>
<line x1="483.94" y1="192.5" x2="483.94" y2="188.9" stroke="#222" stroke-width="1.15"/>
<line x1="483.94" y1="11" x2="483.94" y2="14.6" stroke="#222" stroke-width="1.15"/>
<line x1="510.35" y1="192.5" x2="510.35" y2="188.9" stroke="#222" stroke-width="1.15"/>
<line x1="510.35" y1="11" x2="510.35" y2="14.6" stroke="#222" stroke-width="1.15"/>
<line x1="536.76" y1="192.5" x2="536.76" y2="188.9" stroke="#222" stroke-width="1.15"/>
<line x1="536.76" y1="11" x2="536.76" y2="14.6" stroke="#222" stroke-width="1.15"/>
<line x1="563.17" y1="192.5" x2="563.17" y2="188.9" stroke="#222" stroke-width="1.15"/>
<line x1="563.17" y1="11" x2="563.17" y2="14.6" stroke="#222" stroke-width="1.15"/>
<line x1="589.58" y1="192.5" x2="589.58" y2="188.9" stroke="#222" stroke-width="1.15"/>
<line x1="589.58" y1="11" x2="589.58" y2="14.6" stroke="#222" stroke-width="1.15"/>
<line x1="615.99" y1="192.5" x2="615.99" y2="188.9" stroke="#222" stroke-width="1.15"/>
<line x1="615.99" y1="11" x2="615.99" y2="14.6" stroke="#222" stroke-width="1.15"/>
<text transform="translate(404.71,208.6) scale(1.05,1)" font-size="12" text-anchor="middle" fill="#111">−40</text>
<text transform="translate(457.53,208.6) scale(1.05,1)" font-size="12" text-anchor="middle" fill="#111">−20</text>
<text transform="translate(510.35,208.6) scale(1.05,1)" font-size="12" text-anchor="middle" fill="#111">0</text>
<text transform="translate(563.17,208.6) scale(1.05,1)" font-size="12" text-anchor="middle" fill="#111">20</text>
<text transform="translate(615.99,208.6) scale(1.05,1)" font-size="12" text-anchor="middle" fill="#111">40</text>
<line x1="398.2" y1="184.61" x2="400.5" y2="184.61" stroke="#222" stroke-width="1.15"/>
<line x1="398.2" y1="180.05" x2="400.5" y2="180.05" stroke="#222" stroke-width="1.15"/>
<line x1="398.2" y1="176.82" x2="400.5" y2="176.82" stroke="#222" stroke-width="1.15"/>
<line x1="398.2" y1="174.31" x2="400.5" y2="174.31" stroke="#222" stroke-width="1.15"/>
<line x1="398.2" y1="172.26" x2="400.5" y2="172.26" stroke="#222" stroke-width="1.15"/>
<line x1="398.2" y1="170.53" x2="400.5" y2="170.53" stroke="#222" stroke-width="1.15"/>
<line x1="398.2" y1="169.03" x2="400.5" y2="169.03" stroke="#222" stroke-width="1.15"/>
<line x1="398.2" y1="167.7" x2="400.5" y2="167.7" stroke="#222" stroke-width="1.15"/>
<line x1="398.2" y1="166.52" x2="402.2" y2="166.52" stroke="#222" stroke-width="1.15"/>
<line x1="398.2" y1="158.73" x2="400.5" y2="158.73" stroke="#222" stroke-width="1.15"/>
<line x1="398.2" y1="154.17" x2="400.5" y2="154.17" stroke="#222" stroke-width="1.15"/>
<line x1="398.2" y1="150.94" x2="400.5" y2="150.94" stroke="#222" stroke-width="1.15"/>
<line x1="398.2" y1="148.43" x2="400.5" y2="148.43" stroke="#222" stroke-width="1.15"/>
<line x1="398.2" y1="146.38" x2="400.5" y2="146.38" stroke="#222" stroke-width="1.15"/>
<line x1="398.2" y1="144.65" x2="400.5" y2="144.65" stroke="#222" stroke-width="1.15"/>
<line x1="398.2" y1="143.15" x2="400.5" y2="143.15" stroke="#222" stroke-width="1.15"/>
<line x1="398.2" y1="141.82" x2="400.5" y2="141.82" stroke="#222" stroke-width="1.15"/>
<line x1="398.2" y1="140.64" x2="402.2" y2="140.64" stroke="#222" stroke-width="1.15"/>
<line x1="398.2" y1="132.85" x2="400.5" y2="132.85" stroke="#222" stroke-width="1.15"/>
<line x1="398.2" y1="128.29" x2="400.5" y2="128.29" stroke="#222" stroke-width="1.15"/>
<line x1="398.2" y1="125.06" x2="400.5" y2="125.06" stroke="#222" stroke-width="1.15"/>
<line x1="398.2" y1="122.55" x2="400.5" y2="122.55" stroke="#222" stroke-width="1.15"/>
<line x1="398.2" y1="120.5" x2="400.5" y2="120.5" stroke="#222" stroke-width="1.15"/>
<line x1="398.2" y1="118.77" x2="400.5" y2="118.77" stroke="#222" stroke-width="1.15"/>
<line x1="398.2" y1="117.27" x2="400.5" y2="117.27" stroke="#222" stroke-width="1.15"/>
<line x1="398.2" y1="115.94" x2="400.5" y2="115.94" stroke="#222" stroke-width="1.15"/>
<line x1="398.2" y1="114.76" x2="402.2" y2="114.76" stroke="#222" stroke-width="1.15"/>
<line x1="398.2" y1="106.97" x2="400.5" y2="106.97" stroke="#222" stroke-width="1.15"/>
<line x1="398.2" y1="102.41" x2="400.5" y2="102.41" stroke="#222" stroke-width="1.15"/>
<line x1="398.2" y1="99.18" x2="400.5" y2="99.18" stroke="#222" stroke-width="1.15"/>
<line x1="398.2" y1="96.67" x2="400.5" y2="96.67" stroke="#222" stroke-width="1.15"/>
<line x1="398.2" y1="94.62" x2="400.5" y2="94.62" stroke="#222" stroke-width="1.15"/>
<line x1="398.2" y1="92.89" x2="400.5" y2="92.89" stroke="#222" stroke-width="1.15"/>
<line x1="398.2" y1="91.39" x2="400.5" y2="91.39" stroke="#222" stroke-width="1.15"/>
<line x1="398.2" y1="90.06" x2="400.5" y2="90.06" stroke="#222" stroke-width="1.15"/>
<line x1="398.2" y1="88.88" x2="402.2" y2="88.88" stroke="#222" stroke-width="1.15"/>
<line x1="398.2" y1="81.09" x2="400.5" y2="81.09" stroke="#222" stroke-width="1.15"/>
<line x1="398.2" y1="76.53" x2="400.5" y2="76.53" stroke="#222" stroke-width="1.15"/>
<line x1="398.2" y1="73.3" x2="400.5" y2="73.3" stroke="#222" stroke-width="1.15"/>
<line x1="398.2" y1="70.79" x2="400.5" y2="70.79" stroke="#222" stroke-width="1.15"/>
<line x1="398.2" y1="68.74" x2="400.5" y2="68.74" stroke="#222" stroke-width="1.15"/>
<line x1="398.2" y1="67.01" x2="400.5" y2="67.01" stroke="#222" stroke-width="1.15"/>
<line x1="398.2" y1="65.51" x2="400.5" y2="65.51" stroke="#222" stroke-width="1.15"/>
<line x1="398.2" y1="64.18" x2="400.5" y2="64.18" stroke="#222" stroke-width="1.15"/>
<line x1="398.2" y1="63" x2="402.2" y2="63" stroke="#222" stroke-width="1.15"/>
<line x1="398.2" y1="55.21" x2="400.5" y2="55.21" stroke="#222" stroke-width="1.15"/>
<line x1="398.2" y1="50.65" x2="400.5" y2="50.65" stroke="#222" stroke-width="1.15"/>
<line x1="398.2" y1="47.42" x2="400.5" y2="47.42" stroke="#222" stroke-width="1.15"/>
<line x1="398.2" y1="44.91" x2="400.5" y2="44.91" stroke="#222" stroke-width="1.15"/>
<line x1="398.2" y1="42.86" x2="400.5" y2="42.86" stroke="#222" stroke-width="1.15"/>
<line x1="398.2" y1="41.13" x2="400.5" y2="41.13" stroke="#222" stroke-width="1.15"/>
<line x1="398.2" y1="39.63" x2="400.5" y2="39.63" stroke="#222" stroke-width="1.15"/>
<line x1="398.2" y1="38.3" x2="400.5" y2="38.3" stroke="#222" stroke-width="1.15"/>
<line x1="398.2" y1="37.12" x2="402.2" y2="37.12" stroke="#222" stroke-width="1.15"/>
<line x1="398.2" y1="29.33" x2="400.5" y2="29.33" stroke="#222" stroke-width="1.15"/>
<line x1="398.2" y1="24.77" x2="400.5" y2="24.77" stroke="#222" stroke-width="1.15"/>
<line x1="398.2" y1="21.54" x2="400.5" y2="21.54" stroke="#222" stroke-width="1.15"/>
<line x1="398.2" y1="19.03" x2="400.5" y2="19.03" stroke="#222" stroke-width="1.15"/>
<line x1="398.2" y1="16.98" x2="400.5" y2="16.98" stroke="#222" stroke-width="1.15"/>
<line x1="398.2" y1="15.25" x2="400.5" y2="15.25" stroke="#222" stroke-width="1.15"/>
<line x1="398.2" y1="13.75" x2="400.5" y2="13.75" stroke="#222" stroke-width="1.15"/>
<line x1="398.2" y1="12.42" x2="400.5" y2="12.42" stroke="#222" stroke-width="1.15"/>
<text transform="translate(392.8,197) scale(1.05,1)" font-size="12" text-anchor="end" fill="#111">10<tspan dy="-5.3" font-size="8.8">−9</tspan></text>
<text transform="translate(392.8,145.24) scale(1.05,1)" font-size="12" text-anchor="end" fill="#111">10<tspan dy="-5.3" font-size="8.8">−7</tspan></text>
<text transform="translate(392.8,93.48) scale(1.05,1)" font-size="12" text-anchor="end" fill="#111">10<tspan dy="-5.3" font-size="8.8">−5</tspan></text>
<text transform="translate(392.8,41.72) scale(1.05,1)" font-size="12" text-anchor="end" fill="#111">10<tspan dy="-5.3" font-size="8.8">−3</tspan></text>
<line x1="623.2" y1="190.6" x2="619.2" y2="190.6" stroke="#222" stroke-width="1.15"/>
<line x1="623.2" y1="169.85" x2="620.9" y2="169.85" stroke="#222" stroke-width="1.15"/>
<line x1="623.2" y1="149.11" x2="619.2" y2="149.11" stroke="#222" stroke-width="1.15"/>
<line x1="623.2" y1="128.36" x2="620.9" y2="128.36" stroke="#222" stroke-width="1.15"/>
<line x1="623.2" y1="107.62" x2="619.2" y2="107.62" stroke="#222" stroke-width="1.15"/>
<line x1="623.2" y1="86.88" x2="620.9" y2="86.88" stroke="#222" stroke-width="1.15"/>
<line x1="623.2" y1="66.13" x2="619.2" y2="66.13" stroke="#222" stroke-width="1.15"/>
<line x1="623.2" y1="45.38" x2="620.9" y2="45.38" stroke="#222" stroke-width="1.15"/>
<line x1="623.2" y1="24.64" x2="619.2" y2="24.64" stroke="#222" stroke-width="1.15"/>
<text transform="translate(628.8,193.7) scale(1.05,1)" font-size="12" fill="#111">0.000</text>
<text transform="translate(628.8,152.21) scale(1.05,1)" font-size="12" fill="#111">0.003</text>
<text transform="translate(628.8,110.72) scale(1.05,1)" font-size="12" fill="#111">0.006</text>
<text transform="translate(628.8,69.23) scale(1.05,1)" font-size="12" fill="#111">0.009</text>
<text transform="translate(628.8,27.74) scale(1.05,1)" font-size="12" fill="#111">0.012</text>
<text transform="translate(511,226.6)" font-size="12.8" text-anchor="middle" fill="#111"><tspan font-style="italic">V</tspan><tspan dy="2.6" font-size="9.5">GS</tspan><tspan dy="-2.6"> (V)</tspan></text>
<text transform="translate(360.8,110.5) rotate(-90)" font-size="12.8" text-anchor="middle" fill="#111"><tspan font-style="italic">I</tspan><tspan dy="2.6" font-size="9.5">DS</tspan><tspan dy="-2.6"> (A)</tspan></text>
<text transform="translate(680.4,101.3) rotate(-90)" font-size="12.8" text-anchor="middle" fill="#111"><tspan font-style="italic">I</tspan><tspan dy="2.4" font-size="9.2">DS</tspan><tspan dy="-7.4" font-size="9.2">1/2</tspan><tspan dy="5"> (A</tspan><tspan dy="-5" font-size="9.2">1/2</tspan><tspan dy="5">)</tspan></text>
<text transform="translate(408.3,177.2) scale(0.99,1)" font-size="11" fill="#e030e0"><tspan font-style="italic">V</tspan><tspan dy="3.9" font-size="8.3">DS</tspan><tspan dy="-3.9"> = −30V</tspan></text>
<polyline points="404.71,67.58 408.01,68.25 411.31,68.99 414.61,69.79 417.92,70.64 421.22,71.6 424.52,72.63 427.82,73.6 431.12,74.5 434.42,75.37 437.72,76.25 441.02,77.11 444.33,77.99 447.63,78.92 450.93,79.88 454.23,80.91 457.53,82.11 460.83,83.53 464.13,85.12 467.43,86.77 470.74,88.5 474.04,90.45 477.34,92.85 480.64,95.9 483.94,99.16 487.24,102.4 490.54,105.64 493.84,108.65 497.15,111.51 500.45,114.36 503.75,117.85 507.05,121.91 510.35,127.61 513.65,133.84 516.95,142.44 520.25,159.64 523.56,182.78 526.2,176.49 528.84,167.81 531.48,160.13 534.12,155.26 536.76,151.5 539.4,148.38 542.04,145.31 544.68,142.31 547.32,139.46 549.97,136.75 552.61,134.28 555.25,132.07 557.89,129.99 560.53,127.92 563.17,125.88 565.81,123.9 568.45,122.01 571.09,120.27 573.73,118.67 576.38,117.19 579.02,115.78 581.66,114.4 584.3,113.02 586.94,111.66 589.58,110.32 592.22,109.03 594.86,107.82 597.5,106.63 600.14,105.46 602.79,104.37 605.43,103.42 608.07,102.65 610.71,101.97 613.35,101.38 615.99,100.9" fill="none" stroke="#e81ee8" stroke-width="0.9" stroke-linejoin="round"/>
<circle cx="404.71" cy="77.06" r="2.2" fill="url(#gn)"/>
<circle cx="408.67" cy="81.26" r="2.2" fill="url(#gn)"/>
<circle cx="412.63" cy="85.46" r="2.2" fill="url(#gn)"/>
<circle cx="416.59" cy="89.64" r="2.2" fill="url(#gn)"/>
<circle cx="420.56" cy="93.81" r="2.2" fill="url(#gn)"/>
<circle cx="424.52" cy="97.97" r="2.2" fill="url(#gn)"/>
<circle cx="428.48" cy="102.11" r="2.2" fill="url(#gn)"/>
<circle cx="432.44" cy="106.25" r="2.2" fill="url(#gn)"/>
<circle cx="436.4" cy="110.39" r="2.2" fill="url(#gn)"/>
<circle cx="440.36" cy="114.52" r="2.2" fill="url(#gn)"/>
<circle cx="444.33" cy="118.62" r="2.2" fill="url(#gn)"/>
<circle cx="448.29" cy="122.67" r="2.2" fill="url(#gn)"/>
<circle cx="452.25" cy="126.65" r="2.2" fill="url(#gn)"/>
<circle cx="456.21" cy="130.55" r="2.2" fill="url(#gn)"/>
<circle cx="460.17" cy="134.4" r="2.2" fill="url(#gn)"/>
<circle cx="464.13" cy="138.25" r="2.2" fill="url(#gn)"/>
<circle cx="468.09" cy="142.12" r="2.2" fill="url(#gn)"/>
<circle cx="472.06" cy="146.03" r="2.2" fill="url(#gn)"/>
<circle cx="476.02" cy="149.97" r="2.2" fill="url(#gn)"/>
<circle cx="479.98" cy="154.07" r="2.2" fill="url(#gn)"/>
<circle cx="483.94" cy="158.37" r="2.2" fill="url(#gn)"/>
<circle cx="487.9" cy="162.58" r="2.2" fill="url(#gn)"/>
<circle cx="491.86" cy="166.7" r="2.2" fill="url(#gn)"/>
<circle cx="495.82" cy="170.55" r="2.2" fill="url(#gn)"/>
<circle cx="499.79" cy="174.15" r="2.2" fill="url(#gn)"/>
<circle cx="503.75" cy="177.44" r="2.2" fill="url(#gn)"/>
<circle cx="507.71" cy="180.47" r="2.2" fill="url(#gn)"/>
<circle cx="511.67" cy="183.06" r="2.2" fill="url(#gn)"/>
<circle cx="515.63" cy="185.31" r="2.2" fill="url(#gn)"/>
<circle cx="519.59" cy="186.96" r="2.2" fill="url(#gn)"/>
<circle cx="523.56" cy="188.13" r="2.2" fill="url(#gn)"/>
<circle cx="526.2" cy="188.66" r="2.2" fill="url(#gn)"/>
<circle cx="528.84" cy="188.95" r="2.2" fill="url(#gn)"/>
<circle cx="531.48" cy="189.16" r="2.2" fill="url(#gn)"/>
<circle cx="534.12" cy="189.28" r="2.2" fill="url(#gn)"/>
<circle cx="536.76" cy="189.27" r="2.2" fill="url(#gn)"/>
<circle cx="539.4" cy="189.09" r="2.2" fill="url(#gn)"/>
<circle cx="542.04" cy="188.79" r="2.2" fill="url(#gn)"/>
<circle cx="544.68" cy="188.45" r="2.2" fill="url(#gn)"/>
<circle cx="547.32" cy="187.94" r="2.2" fill="url(#gn)"/>
<circle cx="549.97" cy="187.33" r="2.2" fill="url(#gn)"/>
<circle cx="552.61" cy="186.72" r="2.2" fill="url(#gn)"/>
<circle cx="555.25" cy="186.1" r="2.2" fill="url(#gn)"/>
<circle cx="557.89" cy="185.45" r="2.2" fill="url(#gn)"/>
<circle cx="560.53" cy="184.76" r="2.2" fill="url(#gn)"/>
<circle cx="563.17" cy="184.04" r="2.2" fill="url(#gn)"/>
<circle cx="565.81" cy="183.29" r="2.2" fill="url(#gn)"/>
<circle cx="568.45" cy="182.5" r="2.2" fill="url(#gn)"/>
<circle cx="571.09" cy="181.64" r="2.2" fill="url(#gn)"/>
<circle cx="573.73" cy="180.67" r="2.2" fill="url(#gn)"/>
<circle cx="576.38" cy="179.6" r="2.2" fill="url(#gn)"/>
<circle cx="579.02" cy="178.48" r="2.2" fill="url(#gn)"/>
<circle cx="581.66" cy="177.35" r="2.2" fill="url(#gn)"/>
<circle cx="584.3" cy="176.28" r="2.2" fill="url(#gn)"/>
<circle cx="586.94" cy="175.21" r="2.2" fill="url(#gn)"/>
<circle cx="589.58" cy="174.15" r="2.2" fill="url(#gn)"/>
<circle cx="592.22" cy="173.09" r="2.2" fill="url(#gn)"/>
<circle cx="594.86" cy="172.02" r="2.2" fill="url(#gn)"/>
<circle cx="597.5" cy="170.92" r="2.2" fill="url(#gn)"/>
<circle cx="600.14" cy="169.8" r="2.2" fill="url(#gn)"/>
<circle cx="602.79" cy="168.69" r="2.2" fill="url(#gn)"/>
<circle cx="605.43" cy="167.62" r="2.2" fill="url(#gn)"/>
<circle cx="608.07" cy="166.63" r="2.2" fill="url(#gn)"/>
<circle cx="610.71" cy="165.69" r="2.2" fill="url(#gn)"/>
<circle cx="613.35" cy="164.79" r="2.2" fill="url(#gn)"/>
<circle cx="615.99" cy="163.94" r="2.2" fill="url(#gn)"/>
<line x1="399.5" y1="71.6" x2="510.9" y2="190" stroke="#e8202a" stroke-width="0.9"/>
<circle cx="404.71" cy="67.58" r="2.45" fill="url(#gm)"/>
<circle cx="408.01" cy="68.25" r="2.45" fill="url(#gm)"/>
<circle cx="411.31" cy="68.99" r="2.45" fill="url(#gm)"/>
<circle cx="414.61" cy="69.79" r="2.45" fill="url(#gm)"/>
<circle cx="417.92" cy="70.64" r="2.45" fill="url(#gm)"/>
<circle cx="421.22" cy="71.6" r="2.45" fill="url(#gm)"/>
<circle cx="424.52" cy="72.63" r="2.45" fill="url(#gm)"/>
<circle cx="427.82" cy="73.6" r="2.45" fill="url(#gm)"/>
<circle cx="431.12" cy="74.5" r="2.45" fill="url(#gm)"/>
<circle cx="434.42" cy="75.37" r="2.45" fill="url(#gm)"/>
<circle cx="437.72" cy="76.25" r="2.45" fill="url(#gm)"/>
<circle cx="441.02" cy="77.11" r="2.45" fill="url(#gm)"/>
<circle cx="444.33" cy="77.99" r="2.45" fill="url(#gm)"/>
<circle cx="447.63" cy="78.92" r="2.45" fill="url(#gm)"/>
<circle cx="450.93" cy="79.88" r="2.45" fill="url(#gm)"/>
<circle cx="454.23" cy="80.91" r="2.45" fill="url(#gm)"/>
<circle cx="457.53" cy="82.11" r="2.45" fill="url(#gm)"/>
<circle cx="460.83" cy="83.53" r="2.45" fill="url(#gm)"/>
<circle cx="464.13" cy="85.12" r="2.45" fill="url(#gm)"/>
<circle cx="467.43" cy="86.77" r="2.45" fill="url(#gm)"/>
<circle cx="470.74" cy="88.5" r="2.45" fill="url(#gm)"/>
<circle cx="474.04" cy="90.45" r="2.45" fill="url(#gm)"/>
<circle cx="477.34" cy="92.85" r="2.45" fill="url(#gm)"/>
<circle cx="480.64" cy="95.9" r="2.45" fill="url(#gm)"/>
<circle cx="483.94" cy="99.16" r="2.45" fill="url(#gm)"/>
<circle cx="487.24" cy="102.4" r="2.45" fill="url(#gm)"/>
<circle cx="490.54" cy="105.64" r="2.45" fill="url(#gm)"/>
<circle cx="493.84" cy="108.65" r="2.45" fill="url(#gm)"/>
<circle cx="497.15" cy="111.51" r="2.45" fill="url(#gm)"/>
<circle cx="500.45" cy="114.36" r="2.45" fill="url(#gm)"/>
<circle cx="503.75" cy="117.85" r="2.45" fill="url(#gm)"/>
<circle cx="507.05" cy="121.91" r="2.45" fill="url(#gm)"/>
<circle cx="510.35" cy="127.61" r="2.45" fill="url(#gm)"/>
<circle cx="513.65" cy="133.84" r="2.45" fill="url(#gm)"/>
<circle cx="516.95" cy="142.44" r="2.45" fill="url(#gm)"/>
<circle cx="520.25" cy="159.64" r="2.45" fill="url(#gm)"/>
<circle cx="523.56" cy="182.78" r="2.45" fill="url(#gm)"/>
<circle cx="526.2" cy="176.49" r="2.45" fill="url(#gm)"/>
<circle cx="528.84" cy="167.81" r="2.45" fill="url(#gm)"/>
<circle cx="531.48" cy="160.13" r="2.45" fill="url(#gm)"/>
<circle cx="534.12" cy="155.26" r="2.45" fill="url(#gm)"/>
<circle cx="536.76" cy="151.5" r="2.45" fill="url(#gm)"/>
<circle cx="539.4" cy="148.38" r="2.45" fill="url(#gm)"/>
<circle cx="542.04" cy="145.31" r="2.45" fill="url(#gm)"/>
<circle cx="544.68" cy="142.31" r="2.45" fill="url(#gm)"/>
<circle cx="547.32" cy="139.46" r="2.45" fill="url(#gm)"/>
<circle cx="549.97" cy="136.75" r="2.45" fill="url(#gm)"/>
<circle cx="552.61" cy="134.28" r="2.45" fill="url(#gm)"/>
<circle cx="555.25" cy="132.07" r="2.45" fill="url(#gm)"/>
<circle cx="557.89" cy="129.99" r="2.45" fill="url(#gm)"/>
<circle cx="560.53" cy="127.92" r="2.45" fill="url(#gm)"/>
<circle cx="563.17" cy="125.88" r="2.45" fill="url(#gm)"/>
<circle cx="565.81" cy="123.9" r="2.45" fill="url(#gm)"/>
<circle cx="568.45" cy="122.01" r="2.45" fill="url(#gm)"/>
<circle cx="571.09" cy="120.27" r="2.45" fill="url(#gm)"/>
<circle cx="573.73" cy="118.67" r="2.45" fill="url(#gm)"/>
<circle cx="576.38" cy="117.19" r="2.45" fill="url(#gm)"/>
<circle cx="579.02" cy="115.78" r="2.45" fill="url(#gm)"/>
<circle cx="581.66" cy="114.4" r="2.45" fill="url(#gm)"/>
<circle cx="584.3" cy="113.02" r="2.45" fill="url(#gm)"/>
<circle cx="586.94" cy="111.66" r="2.45" fill="url(#gm)"/>
<circle cx="589.58" cy="110.32" r="2.45" fill="url(#gm)"/>
<circle cx="592.22" cy="109.03" r="2.45" fill="url(#gm)"/>
<circle cx="594.86" cy="107.82" r="2.45" fill="url(#gm)"/>
<circle cx="597.5" cy="106.63" r="2.45" fill="url(#gm)"/>
<circle cx="600.14" cy="105.46" r="2.45" fill="url(#gm)"/>
<circle cx="602.79" cy="104.37" r="2.45" fill="url(#gm)"/>
<circle cx="605.43" cy="103.42" r="2.45" fill="url(#gm)"/>
<circle cx="608.07" cy="102.65" r="2.45" fill="url(#gm)"/>
<circle cx="610.71" cy="101.97" r="2.45" fill="url(#gm)"/>
<circle cx="613.35" cy="101.38" r="2.45" fill="url(#gm)"/>
<circle cx="615.99" cy="100.9" r="2.45" fill="url(#gm)"/>
<ellipse cx="446.5" cy="79.8" rx="11.6" ry="11.6" fill="none" stroke="#e81ee8" stroke-width="1.3"/>
<line x1="434.8" y1="82.2" x2="422.5" y2="82.2" stroke="#e81ee8" stroke-width="1.5"/>
<polygon points="417.2,82.2 423,78.6 423,85.8" fill="#e81ee8"/>
<ellipse cx="580.7" cy="174.2" rx="11.9" ry="12.6" fill="none" stroke="#1c1c94" stroke-width="1.3"/>
<line x1="592.8" y1="179" x2="609.3" y2="179" stroke="#1c1c94" stroke-width="1.5"/>
<polygon points="614.6,179 608.8,182.6 608.8,175.4" fill="#1c1c94"/>
<rect x="398.2" y="11" width="225" height="181.5" fill="none" stroke="#222" stroke-width="1.3"/>
<rect x="496.6" y="17.2" width="98.6" height="73.2" fill="#fff"/>
<line x1="499.02" y1="90.4" x2="499.02" y2="88" stroke="#222" stroke-width="1"/>
<line x1="499.02" y1="17.2" x2="499.02" y2="19.6" stroke="#222" stroke-width="1"/>
<line x1="510.59" y1="90.4" x2="510.59" y2="88" stroke="#222" stroke-width="1"/>
<line x1="510.59" y1="17.2" x2="510.59" y2="19.6" stroke="#222" stroke-width="1"/>
<line x1="522.16" y1="90.4" x2="522.16" y2="88" stroke="#222" stroke-width="1"/>
<line x1="522.16" y1="17.2" x2="522.16" y2="19.6" stroke="#222" stroke-width="1"/>
<line x1="533.73" y1="90.4" x2="533.73" y2="88" stroke="#222" stroke-width="1"/>
<line x1="533.73" y1="17.2" x2="533.73" y2="19.6" stroke="#222" stroke-width="1"/>
<line x1="545.3" y1="90.4" x2="545.3" y2="88" stroke="#222" stroke-width="1"/>
<line x1="545.3" y1="17.2" x2="545.3" y2="19.6" stroke="#222" stroke-width="1"/>
<line x1="556.87" y1="90.4" x2="556.87" y2="88" stroke="#222" stroke-width="1"/>
<line x1="556.87" y1="17.2" x2="556.87" y2="19.6" stroke="#222" stroke-width="1"/>
<line x1="568.44" y1="90.4" x2="568.44" y2="88" stroke="#222" stroke-width="1"/>
<line x1="568.44" y1="17.2" x2="568.44" y2="19.6" stroke="#222" stroke-width="1"/>
<line x1="580.01" y1="90.4" x2="580.01" y2="88" stroke="#222" stroke-width="1"/>
<line x1="580.01" y1="17.2" x2="580.01" y2="19.6" stroke="#222" stroke-width="1"/>
<line x1="591.58" y1="90.4" x2="591.58" y2="88" stroke="#222" stroke-width="1"/>
<line x1="591.58" y1="17.2" x2="591.58" y2="19.6" stroke="#222" stroke-width="1"/>
<text transform="translate(499.02,101.8) scale(1.07,1)" font-size="9" text-anchor="middle" fill="#111">−40</text>
<text transform="translate(522.16,101.8) scale(1.07,1)" font-size="9" text-anchor="middle" fill="#111">−20</text>
<text transform="translate(545.3,101.8) scale(1.07,1)" font-size="9" text-anchor="middle" fill="#111">0</text>
<text transform="translate(568.44,101.8) scale(1.07,1)" font-size="9" text-anchor="middle" fill="#111">20</text>
<text transform="translate(591.58,101.8) scale(1.07,1)" font-size="9" text-anchor="middle" fill="#111">40</text>
<line x1="496.6" y1="86.85" x2="498" y2="86.85" stroke="#222" stroke-width="1"/>
<line x1="496.6" y1="84.48" x2="498" y2="84.48" stroke="#222" stroke-width="1"/>
<line x1="496.6" y1="82.54" x2="498" y2="82.54" stroke="#222" stroke-width="1"/>
<line x1="496.6" y1="80.9" x2="498" y2="80.9" stroke="#222" stroke-width="1"/>
<line x1="496.6" y1="79.47" x2="498" y2="79.47" stroke="#222" stroke-width="1"/>
<line x1="496.6" y1="78.22" x2="498" y2="78.22" stroke="#222" stroke-width="1"/>
<line x1="496.6" y1="77.1" x2="499" y2="77.1" stroke="#222" stroke-width="1"/>
<line x1="496.6" y1="69.72" x2="498" y2="69.72" stroke="#222" stroke-width="1"/>
<line x1="496.6" y1="65.41" x2="498" y2="65.41" stroke="#222" stroke-width="1"/>
<line x1="496.6" y1="62.35" x2="498" y2="62.35" stroke="#222" stroke-width="1"/>
<line x1="496.6" y1="59.98" x2="498" y2="59.98" stroke="#222" stroke-width="1"/>
<line x1="496.6" y1="58.04" x2="498" y2="58.04" stroke="#222" stroke-width="1"/>
<line x1="496.6" y1="56.4" x2="498" y2="56.4" stroke="#222" stroke-width="1"/>
<line x1="496.6" y1="54.97" x2="498" y2="54.97" stroke="#222" stroke-width="1"/>
<line x1="496.6" y1="53.72" x2="498" y2="53.72" stroke="#222" stroke-width="1"/>
<line x1="496.6" y1="52.6" x2="499" y2="52.6" stroke="#222" stroke-width="1"/>
<line x1="496.6" y1="45.22" x2="498" y2="45.22" stroke="#222" stroke-width="1"/>
<line x1="496.6" y1="40.91" x2="498" y2="40.91" stroke="#222" stroke-width="1"/>
<line x1="496.6" y1="37.85" x2="498" y2="37.85" stroke="#222" stroke-width="1"/>
<line x1="496.6" y1="35.48" x2="498" y2="35.48" stroke="#222" stroke-width="1"/>
<line x1="496.6" y1="33.54" x2="498" y2="33.54" stroke="#222" stroke-width="1"/>
<line x1="496.6" y1="31.9" x2="498" y2="31.9" stroke="#222" stroke-width="1"/>
<line x1="496.6" y1="30.47" x2="498" y2="30.47" stroke="#222" stroke-width="1"/>
<line x1="496.6" y1="29.22" x2="498" y2="29.22" stroke="#222" stroke-width="1"/>
<line x1="496.6" y1="28.1" x2="499" y2="28.1" stroke="#222" stroke-width="1"/>
<line x1="496.6" y1="20.72" x2="498" y2="20.72" stroke="#222" stroke-width="1"/>
<text transform="translate(492.8,31.2) scale(1.07,1)" font-size="9" text-anchor="end" fill="#111">10</text>
<text transform="translate(492.8,55.7) scale(1.07,1)" font-size="9" text-anchor="end" fill="#111">1</text>
<text transform="translate(492.8,80.2) scale(1.07,1)" font-size="9" text-anchor="end" fill="#111">0.1</text>
<line x1="595.2" y1="89.4" x2="592.8" y2="89.4" stroke="#222" stroke-width="1"/>
<line x1="595.2" y1="81.28" x2="593.8" y2="81.28" stroke="#222" stroke-width="1"/>
<line x1="595.2" y1="73.15" x2="592.8" y2="73.15" stroke="#222" stroke-width="1"/>
<line x1="595.2" y1="65.03" x2="593.8" y2="65.03" stroke="#222" stroke-width="1"/>
<line x1="595.2" y1="56.9" x2="592.8" y2="56.9" stroke="#222" stroke-width="1"/>
<line x1="595.2" y1="48.78" x2="593.8" y2="48.78" stroke="#222" stroke-width="1"/>
<line x1="595.2" y1="40.65" x2="592.8" y2="40.65" stroke="#222" stroke-width="1"/>
<line x1="595.2" y1="32.53" x2="593.8" y2="32.53" stroke="#222" stroke-width="1"/>
<line x1="595.2" y1="24.4" x2="592.8" y2="24.4" stroke="#222" stroke-width="1"/>
<text transform="translate(598.2,92.7) scale(1.07,1)" font-size="9" fill="#111">0</text>
<text transform="translate(598.2,60.2) scale(1.07,1)" font-size="9" fill="#111">2</text>
<text transform="translate(598.2,27.7) scale(1.07,1)" font-size="9" fill="#111">4</text>
<text transform="translate(545.5,113.8)" font-size="9.7" text-anchor="middle" fill="#111"><tspan font-style="italic">V</tspan><tspan dy="2.2" font-size="7.4">GS</tspan><tspan dy="-2.2"> (V)</tspan></text>
<text transform="translate(476.6,53.9) rotate(-90)" font-size="9.6" text-anchor="middle" fill="#111"><tspan font-style="italic">I</tspan><tspan dy="2.2" font-size="7.4">DS</tspan><tspan dy="-2.2"> (nA)</tspan></text>
<text transform="translate(616,54.5) rotate(-90)" font-size="10" text-anchor="middle" fill="#111"><tspan font-style="italic">I</tspan><tspan dy="2.2" font-size="6.8">DS</tspan><tspan dy="-6" font-size="6.8">1/2</tspan><tspan dy="3.8"> (nA</tspan><tspan dy="-3.8" font-size="6.8">1/2</tspan><tspan dy="3.8">)</tspan></text>
<circle cx="499.02" cy="23.25" r="1.95" fill="#fff" stroke="#2c2ca0" stroke-width="0.8"/>
<circle cx="501.33" cy="27.55" r="1.95" fill="#fff" stroke="#2c2ca0" stroke-width="0.8"/>
<circle cx="503.65" cy="31.71" r="1.95" fill="#fff" stroke="#2c2ca0" stroke-width="0.8"/>
<circle cx="505.96" cy="35.68" r="1.95" fill="#fff" stroke="#2c2ca0" stroke-width="0.8"/>
<circle cx="508.28" cy="39.53" r="1.95" fill="#fff" stroke="#2c2ca0" stroke-width="0.8"/>
<circle cx="510.59" cy="43.36" r="1.95" fill="#fff" stroke="#2c2ca0" stroke-width="0.8"/>
<circle cx="512.9" cy="47.16" r="1.95" fill="#fff" stroke="#2c2ca0" stroke-width="0.8"/>
<circle cx="515.22" cy="51.02" r="1.95" fill="#fff" stroke="#2c2ca0" stroke-width="0.8"/>
<circle cx="517.53" cy="54.97" r="1.95" fill="#fff" stroke="#2c2ca0" stroke-width="0.8"/>
<circle cx="519.85" cy="58.71" r="1.95" fill="#fff" stroke="#2c2ca0" stroke-width="0.8"/>
<circle cx="522.16" cy="62.21" r="1.95" fill="#fff" stroke="#2c2ca0" stroke-width="0.8"/>
<circle cx="524.47" cy="65.55" r="1.95" fill="#fff" stroke="#2c2ca0" stroke-width="0.8"/>
<circle cx="526.79" cy="68.73" r="1.95" fill="#fff" stroke="#2c2ca0" stroke-width="0.8"/>
<circle cx="529.1" cy="71.75" r="1.95" fill="#fff" stroke="#2c2ca0" stroke-width="0.8"/>
<circle cx="531.42" cy="74.73" r="1.95" fill="#fff" stroke="#2c2ca0" stroke-width="0.8"/>
<circle cx="533.73" cy="77.4" r="1.95" fill="#fff" stroke="#2c2ca0" stroke-width="0.8"/>
<circle cx="536.04" cy="79.22" r="1.95" fill="#fff" stroke="#2c2ca0" stroke-width="0.8"/>
<circle cx="538.36" cy="80.61" r="1.95" fill="#fff" stroke="#2c2ca0" stroke-width="0.8"/>
<circle cx="540.67" cy="81.86" r="1.95" fill="#fff" stroke="#2c2ca0" stroke-width="0.8"/>
<circle cx="542.99" cy="83.2" r="1.95" fill="#fff" stroke="#2c2ca0" stroke-width="0.8"/>
<circle cx="545.3" cy="84.5" r="1.95" fill="#fff" stroke="#2c2ca0" stroke-width="0.8"/>
<circle cx="547.61" cy="85.45" r="1.95" fill="#fff" stroke="#2c2ca0" stroke-width="0.8"/>
<circle cx="549.93" cy="86.04" r="1.95" fill="#fff" stroke="#2c2ca0" stroke-width="0.8"/>
<circle cx="552.24" cy="86.51" r="1.95" fill="#fff" stroke="#2c2ca0" stroke-width="0.8"/>
<circle cx="553.51" cy="86.66" r="1.95" fill="#fff" stroke="#2c2ca0" stroke-width="0.8"/>
<circle cx="554.78" cy="86.7" r="1.95" fill="#fff" stroke="#2c2ca0" stroke-width="0.8"/>
<circle cx="556.05" cy="86.7" r="1.95" fill="#fff" stroke="#2c2ca0" stroke-width="0.8"/>
<circle cx="557.32" cy="86.7" r="1.95" fill="#fff" stroke="#2c2ca0" stroke-width="0.8"/>
<circle cx="558.59" cy="86.7" r="1.95" fill="#fff" stroke="#2c2ca0" stroke-width="0.8"/>
<circle cx="559.86" cy="86.7" r="1.95" fill="#fff" stroke="#2c2ca0" stroke-width="0.8"/>
<circle cx="561.12" cy="86.7" r="1.95" fill="#fff" stroke="#2c2ca0" stroke-width="0.8"/>
<circle cx="562.39" cy="86.52" r="1.95" fill="#fff" stroke="#2c2ca0" stroke-width="0.8"/>
<circle cx="563.66" cy="85.92" r="1.95" fill="#fff" stroke="#2c2ca0" stroke-width="0.8"/>
<circle cx="564.93" cy="85.01" r="1.95" fill="#fff" stroke="#2c2ca0" stroke-width="0.8"/>
<circle cx="566.2" cy="83.89" r="1.95" fill="#fff" stroke="#2c2ca0" stroke-width="0.8"/>
<circle cx="567.47" cy="82.67" r="1.95" fill="#fff" stroke="#2c2ca0" stroke-width="0.8"/>
<circle cx="568.74" cy="81.46" r="1.95" fill="#fff" stroke="#2c2ca0" stroke-width="0.8"/>
<circle cx="570.01" cy="80.13" r="1.95" fill="#fff" stroke="#2c2ca0" stroke-width="0.8"/>
<circle cx="571.28" cy="78.53" r="1.95" fill="#fff" stroke="#2c2ca0" stroke-width="0.8"/>
<circle cx="572.55" cy="76.77" r="1.95" fill="#fff" stroke="#2c2ca0" stroke-width="0.8"/>
<circle cx="573.81" cy="74.93" r="1.95" fill="#fff" stroke="#2c2ca0" stroke-width="0.8"/>
<circle cx="575.08" cy="73.12" r="1.95" fill="#fff" stroke="#2c2ca0" stroke-width="0.8"/>
<circle cx="576.35" cy="71.4" r="1.95" fill="#fff" stroke="#2c2ca0" stroke-width="0.8"/>
<circle cx="577.62" cy="69.67" r="1.95" fill="#fff" stroke="#2c2ca0" stroke-width="0.8"/>
<circle cx="578.89" cy="67.93" r="1.95" fill="#fff" stroke="#2c2ca0" stroke-width="0.8"/>
<circle cx="580.16" cy="66.2" r="1.95" fill="#fff" stroke="#2c2ca0" stroke-width="0.8"/>
<circle cx="581.43" cy="64.5" r="1.95" fill="#fff" stroke="#2c2ca0" stroke-width="0.8"/>
<circle cx="582.7" cy="62.88" r="1.95" fill="#fff" stroke="#2c2ca0" stroke-width="0.8"/>
<circle cx="583.97" cy="61.32" r="1.95" fill="#fff" stroke="#2c2ca0" stroke-width="0.8"/>
<circle cx="585.24" cy="59.8" r="1.95" fill="#fff" stroke="#2c2ca0" stroke-width="0.8"/>
<circle cx="586.5" cy="58.31" r="1.95" fill="#fff" stroke="#2c2ca0" stroke-width="0.8"/>
<circle cx="587.77" cy="56.85" r="1.95" fill="#fff" stroke="#2c2ca0" stroke-width="0.8"/>
<circle cx="589.04" cy="55.44" r="1.95" fill="#fff" stroke="#2c2ca0" stroke-width="0.8"/>
<circle cx="590.31" cy="54.06" r="1.95" fill="#fff" stroke="#2c2ca0" stroke-width="0.8"/>
<circle cx="591.58" cy="52.73" r="1.95" fill="#fff" stroke="#2c2ca0" stroke-width="0.8"/>
<line x1="499" y1="24.1" x2="531.9" y2="82.1" stroke="#e8202a" stroke-width="1"/>
<circle cx="499.02" cy="23.31" r="1.95" fill="#fff" stroke="#e840e8" stroke-width="0.8"/>
<circle cx="501.33" cy="24.65" r="1.95" fill="#fff" stroke="#e840e8" stroke-width="0.8"/>
<circle cx="503.65" cy="26.08" r="1.95" fill="#fff" stroke="#e840e8" stroke-width="0.8"/>
<circle cx="505.96" cy="27.61" r="1.95" fill="#fff" stroke="#e840e8" stroke-width="0.8"/>
<circle cx="508.28" cy="29.24" r="1.95" fill="#fff" stroke="#e840e8" stroke-width="0.8"/>
<circle cx="510.59" cy="30.99" r="1.95" fill="#fff" stroke="#e840e8" stroke-width="0.8"/>
<circle cx="512.9" cy="32.83" r="1.95" fill="#fff" stroke="#e840e8" stroke-width="0.8"/>
<circle cx="515.22" cy="34.76" r="1.95" fill="#fff" stroke="#e840e8" stroke-width="0.8"/>
<circle cx="517.53" cy="36.81" r="1.95" fill="#fff" stroke="#e840e8" stroke-width="0.8"/>
<circle cx="519.85" cy="39.05" r="1.95" fill="#fff" stroke="#e840e8" stroke-width="0.8"/>
<circle cx="522.16" cy="41.51" r="1.95" fill="#fff" stroke="#e840e8" stroke-width="0.8"/>
<circle cx="524.47" cy="44.16" r="1.95" fill="#fff" stroke="#e840e8" stroke-width="0.8"/>
<circle cx="526.79" cy="46.98" r="1.95" fill="#fff" stroke="#e840e8" stroke-width="0.8"/>
<circle cx="529.1" cy="50.02" r="1.95" fill="#fff" stroke="#e840e8" stroke-width="0.8"/>
<circle cx="531.42" cy="53.32" r="1.95" fill="#fff" stroke="#e840e8" stroke-width="0.8"/>
<circle cx="533.73" cy="57" r="1.95" fill="#fff" stroke="#e840e8" stroke-width="0.8"/>
<circle cx="536.04" cy="60.78" r="1.95" fill="#fff" stroke="#e840e8" stroke-width="0.8"/>
<circle cx="538.36" cy="64.61" r="1.95" fill="#fff" stroke="#e840e8" stroke-width="0.8"/>
<circle cx="540.67" cy="67.99" r="1.95" fill="#fff" stroke="#e840e8" stroke-width="0.8"/>
<circle cx="542.99" cy="71.01" r="1.95" fill="#fff" stroke="#e840e8" stroke-width="0.8"/>
<circle cx="545.3" cy="73.92" r="1.95" fill="#fff" stroke="#e840e8" stroke-width="0.8"/>
<circle cx="547.61" cy="76.85" r="1.95" fill="#fff" stroke="#e840e8" stroke-width="0.8"/>
<circle cx="549.93" cy="79.15" r="1.95" fill="#fff" stroke="#e840e8" stroke-width="0.8"/>
<circle cx="552.24" cy="80.75" r="1.95" fill="#fff" stroke="#e840e8" stroke-width="0.8"/>
<circle cx="553.51" cy="81.49" r="1.95" fill="#fff" stroke="#e840e8" stroke-width="0.8"/>
<circle cx="554.78" cy="82.2" r="1.95" fill="#fff" stroke="#e840e8" stroke-width="0.8"/>
<circle cx="556.05" cy="83.03" r="1.95" fill="#fff" stroke="#e840e8" stroke-width="0.8"/>
<circle cx="557.32" cy="83.68" r="1.95" fill="#fff" stroke="#e840e8" stroke-width="0.8"/>
<circle cx="558.59" cy="83.71" r="1.95" fill="#fff" stroke="#e840e8" stroke-width="0.8"/>
<circle cx="559.86" cy="83" r="1.95" fill="#fff" stroke="#e840e8" stroke-width="0.8"/>
<circle cx="561.12" cy="81.87" r="1.95" fill="#fff" stroke="#e840e8" stroke-width="0.8"/>
<circle cx="562.39" cy="79.26" r="1.95" fill="#fff" stroke="#e840e8" stroke-width="0.8"/>
<circle cx="563.66" cy="75.33" r="1.95" fill="#fff" stroke="#e840e8" stroke-width="0.8"/>
<circle cx="564.93" cy="71.44" r="1.95" fill="#fff" stroke="#e840e8" stroke-width="0.8"/>
<circle cx="566.2" cy="68.21" r="1.95" fill="#fff" stroke="#e840e8" stroke-width="0.8"/>
<circle cx="567.47" cy="65.07" r="1.95" fill="#fff" stroke="#e840e8" stroke-width="0.8"/>
<circle cx="568.74" cy="62.12" r="1.95" fill="#fff" stroke="#e840e8" stroke-width="0.8"/>
<circle cx="570.01" cy="59.49" r="1.95" fill="#fff" stroke="#e840e8" stroke-width="0.8"/>
<circle cx="571.28" cy="57.07" r="1.95" fill="#fff" stroke="#e840e8" stroke-width="0.8"/>
<circle cx="572.55" cy="54.8" r="1.95" fill="#fff" stroke="#e840e8" stroke-width="0.8"/>
<circle cx="573.81" cy="52.7" r="1.95" fill="#fff" stroke="#e840e8" stroke-width="0.8"/>
<circle cx="575.08" cy="50.76" r="1.95" fill="#fff" stroke="#e840e8" stroke-width="0.8"/>
<circle cx="576.35" cy="48.99" r="1.95" fill="#fff" stroke="#e840e8" stroke-width="0.8"/>
<circle cx="577.62" cy="47.34" r="1.95" fill="#fff" stroke="#e840e8" stroke-width="0.8"/>
<circle cx="578.89" cy="45.8" r="1.95" fill="#fff" stroke="#e840e8" stroke-width="0.8"/>
<circle cx="580.16" cy="44.37" r="1.95" fill="#fff" stroke="#e840e8" stroke-width="0.8"/>
<circle cx="581.43" cy="43.03" r="1.95" fill="#fff" stroke="#e840e8" stroke-width="0.8"/>
<circle cx="582.7" cy="41.78" r="1.95" fill="#fff" stroke="#e840e8" stroke-width="0.8"/>
<circle cx="583.97" cy="40.62" r="1.95" fill="#fff" stroke="#e840e8" stroke-width="0.8"/>
<circle cx="585.24" cy="39.5" r="1.95" fill="#fff" stroke="#e840e8" stroke-width="0.8"/>
<circle cx="586.5" cy="38.45" r="1.95" fill="#fff" stroke="#e840e8" stroke-width="0.8"/>
<circle cx="587.77" cy="37.46" r="1.95" fill="#fff" stroke="#e840e8" stroke-width="0.8"/>
<circle cx="589.04" cy="36.55" r="1.95" fill="#fff" stroke="#e840e8" stroke-width="0.8"/>
<circle cx="590.31" cy="35.71" r="1.95" fill="#fff" stroke="#e840e8" stroke-width="0.8"/>
<circle cx="591.58" cy="34.97" r="1.95" fill="#fff" stroke="#e840e8" stroke-width="0.8"/>
<ellipse cx="527.7" cy="47.7" rx="7.6" ry="7.6" fill="none" stroke="#e81ee8" stroke-width="1"/>
<line x1="520.1" y1="48.5" x2="504.4" y2="48.5" stroke="#e81ee8" stroke-width="1"/>
<polygon points="500.4,48.5 504.9,45.9 504.9,51.1" fill="#e81ee8"/>
<ellipse cx="575" cy="73.7" rx="7.6" ry="7.6" fill="none" stroke="#1c1c8c" stroke-width="1"/>
<line x1="582.6" y1="74.6" x2="590" y2="74.6" stroke="#1c1c8c" stroke-width="1"/>
<polygon points="594,74.6 589.5,77.2 589.5,72" fill="#1c1c8c"/>
<rect x="496.6" y="17.2" width="98.6" height="73.2" fill="none" stroke="#222" stroke-width="1.1"/>
<text transform="translate(0.6,248.3)" font-size="17.5" font-weight="bold" fill="#000">c</text>
<line x1="64" y1="427" x2="64" y2="423.4" stroke="#222" stroke-width="1.15"/>
<line x1="64" y1="245.5" x2="64" y2="249.1" stroke="#222" stroke-width="1.15"/>
<text transform="translate(64,443) scale(1.05,1)" font-size="12" text-anchor="middle" fill="#111">1</text>
<line x1="85.8" y1="427" x2="85.8" y2="423.4" stroke="#222" stroke-width="1.15"/>
<line x1="85.8" y1="245.5" x2="85.8" y2="249.1" stroke="#222" stroke-width="1.15"/>
<text transform="translate(85.8,443) scale(1.05,1)" font-size="12" text-anchor="middle" fill="#111">2</text>
<line x1="118" y1="427" x2="118" y2="423.4" stroke="#222" stroke-width="1.15"/>
<line x1="118" y1="245.5" x2="118" y2="249.1" stroke="#222" stroke-width="1.15"/>
<text transform="translate(118,443) scale(1.05,1)" font-size="12" text-anchor="middle" fill="#111">5</text>
<line x1="147.2" y1="427" x2="147.2" y2="423.4" stroke="#222" stroke-width="1.15"/>
<line x1="147.2" y1="245.5" x2="147.2" y2="249.1" stroke="#222" stroke-width="1.15"/>
<text transform="translate(147.2,443) scale(1.05,1)" font-size="12" text-anchor="middle" fill="#111">10</text>
<line x1="182.3" y1="427" x2="182.3" y2="423.4" stroke="#222" stroke-width="1.15"/>
<line x1="182.3" y1="245.5" x2="182.3" y2="249.1" stroke="#222" stroke-width="1.15"/>
<text transform="translate(182.3,443) scale(1.05,1)" font-size="12" text-anchor="middle" fill="#111">20</text>
<line x1="207.4" y1="427" x2="207.4" y2="423.4" stroke="#222" stroke-width="1.15"/>
<line x1="207.4" y1="245.5" x2="207.4" y2="249.1" stroke="#222" stroke-width="1.15"/>
<text transform="translate(207.4,443) scale(1.05,1)" font-size="12" text-anchor="middle" fill="#111">30</text>
<line x1="229" y1="427" x2="229" y2="423.4" stroke="#222" stroke-width="1.15"/>
<line x1="229" y1="245.5" x2="229" y2="249.1" stroke="#222" stroke-width="1.15"/>
<text transform="translate(229,443) scale(1.05,1)" font-size="12" text-anchor="middle" fill="#111">40</text>
<line x1="249.4" y1="427" x2="249.4" y2="423.4" stroke="#222" stroke-width="1.15"/>
<line x1="249.4" y1="245.5" x2="249.4" y2="249.1" stroke="#222" stroke-width="1.15"/>
<text transform="translate(249.4,443) scale(1.05,1)" font-size="12" text-anchor="middle" fill="#111">50</text>
<line x1="269.4" y1="427" x2="269.4" y2="423.4" stroke="#222" stroke-width="1.15"/>
<line x1="269.4" y1="245.5" x2="269.4" y2="249.1" stroke="#222" stroke-width="1.15"/>
<text transform="translate(269.4,443) scale(1.05,1)" font-size="12" text-anchor="middle" fill="#111">60</text>
<line x1="55.4" y1="427" x2="59.4" y2="427" stroke="#222" stroke-width="1.15"/>
<line x1="55.4" y1="411.88" x2="57.7" y2="411.88" stroke="#222" stroke-width="1.15"/>
<line x1="55.4" y1="396.75" x2="59.4" y2="396.75" stroke="#222" stroke-width="1.15"/>
<line x1="55.4" y1="381.62" x2="57.7" y2="381.62" stroke="#222" stroke-width="1.15"/>
<line x1="55.4" y1="366.5" x2="59.4" y2="366.5" stroke="#222" stroke-width="1.15"/>
<line x1="55.4" y1="351.38" x2="57.7" y2="351.38" stroke="#222" stroke-width="1.15"/>
<line x1="55.4" y1="336.25" x2="59.4" y2="336.25" stroke="#222" stroke-width="1.15"/>
<line x1="55.4" y1="321.12" x2="57.7" y2="321.12" stroke="#222" stroke-width="1.15"/>
<line x1="55.4" y1="306" x2="59.4" y2="306" stroke="#222" stroke-width="1.15"/>
<line x1="55.4" y1="290.88" x2="57.7" y2="290.88" stroke="#222" stroke-width="1.15"/>
<line x1="55.4" y1="275.75" x2="59.4" y2="275.75" stroke="#222" stroke-width="1.15"/>
<line x1="55.4" y1="260.62" x2="57.7" y2="260.62" stroke="#222" stroke-width="1.15"/>
<text transform="translate(49.9,430.3) scale(1.05,1)" font-size="12" text-anchor="end" fill="#111">0.00</text>
<text transform="translate(49.9,400.05) scale(1.05,1)" font-size="12" text-anchor="end" fill="#111">0.03</text>
<text transform="translate(49.9,369.8) scale(1.05,1)" font-size="12" text-anchor="end" fill="#111">0.06</text>
<text transform="translate(49.9,339.55) scale(1.05,1)" font-size="12" text-anchor="end" fill="#111">0.09</text>
<text transform="translate(49.9,309.3) scale(1.05,1)" font-size="12" text-anchor="end" fill="#111">0.12</text>
<text transform="translate(49.9,279.05) scale(1.05,1)" font-size="12" text-anchor="end" fill="#111">0.15</text>
<text transform="translate(49.9,248.8) scale(1.05,1)" font-size="12" text-anchor="end" fill="#111">0.18</text>
<line x1="279.8" y1="417.89" x2="277.5" y2="417.89" stroke="#222" stroke-width="1.15"/>
<line x1="279.8" y1="412.57" x2="277.5" y2="412.57" stroke="#222" stroke-width="1.15"/>
<line x1="279.8" y1="408.79" x2="277.5" y2="408.79" stroke="#222" stroke-width="1.15"/>
<line x1="279.8" y1="405.86" x2="277.5" y2="405.86" stroke="#222" stroke-width="1.15"/>
<line x1="279.8" y1="403.46" x2="277.5" y2="403.46" stroke="#222" stroke-width="1.15"/>
<line x1="279.8" y1="401.44" x2="277.5" y2="401.44" stroke="#222" stroke-width="1.15"/>
<line x1="279.8" y1="399.68" x2="277.5" y2="399.68" stroke="#222" stroke-width="1.15"/>
<line x1="279.8" y1="398.13" x2="277.5" y2="398.13" stroke="#222" stroke-width="1.15"/>
<line x1="279.8" y1="396.75" x2="275.8" y2="396.75" stroke="#222" stroke-width="1.15"/>
<line x1="279.8" y1="387.64" x2="277.5" y2="387.64" stroke="#222" stroke-width="1.15"/>
<line x1="279.8" y1="382.32" x2="277.5" y2="382.32" stroke="#222" stroke-width="1.15"/>
<line x1="279.8" y1="378.54" x2="277.5" y2="378.54" stroke="#222" stroke-width="1.15"/>
<line x1="279.8" y1="375.61" x2="277.5" y2="375.61" stroke="#222" stroke-width="1.15"/>
<line x1="279.8" y1="373.21" x2="277.5" y2="373.21" stroke="#222" stroke-width="1.15"/>
<line x1="279.8" y1="371.19" x2="277.5" y2="371.19" stroke="#222" stroke-width="1.15"/>
<line x1="279.8" y1="369.43" x2="277.5" y2="369.43" stroke="#222" stroke-width="1.15"/>
<line x1="279.8" y1="367.88" x2="277.5" y2="367.88" stroke="#222" stroke-width="1.15"/>
<line x1="279.8" y1="366.5" x2="275.8" y2="366.5" stroke="#222" stroke-width="1.15"/>
<line x1="279.8" y1="357.39" x2="277.5" y2="357.39" stroke="#222" stroke-width="1.15"/>
<line x1="279.8" y1="352.07" x2="277.5" y2="352.07" stroke="#222" stroke-width="1.15"/>
<line x1="279.8" y1="348.29" x2="277.5" y2="348.29" stroke="#222" stroke-width="1.15"/>
<line x1="279.8" y1="345.36" x2="277.5" y2="345.36" stroke="#222" stroke-width="1.15"/>
<line x1="279.8" y1="342.96" x2="277.5" y2="342.96" stroke="#222" stroke-width="1.15"/>
<line x1="279.8" y1="340.94" x2="277.5" y2="340.94" stroke="#222" stroke-width="1.15"/>
<line x1="279.8" y1="339.18" x2="277.5" y2="339.18" stroke="#222" stroke-width="1.15"/>
<line x1="279.8" y1="337.63" x2="277.5" y2="337.63" stroke="#222" stroke-width="1.15"/>
<line x1="279.8" y1="336.25" x2="275.8" y2="336.25" stroke="#222" stroke-width="1.15"/>
<line x1="279.8" y1="327.14" x2="277.5" y2="327.14" stroke="#222" stroke-width="1.15"/>
<line x1="279.8" y1="321.82" x2="277.5" y2="321.82" stroke="#222" stroke-width="1.15"/>
<line x1="279.8" y1="318.04" x2="277.5" y2="318.04" stroke="#222" stroke-width="1.15"/>
<line x1="279.8" y1="315.11" x2="277.5" y2="315.11" stroke="#222" stroke-width="1.15"/>
<line x1="279.8" y1="312.71" x2="277.5" y2="312.71" stroke="#222" stroke-width="1.15"/>
<line x1="279.8" y1="310.69" x2="277.5" y2="310.69" stroke="#222" stroke-width="1.15"/>
<line x1="279.8" y1="308.93" x2="277.5" y2="308.93" stroke="#222" stroke-width="1.15"/>
<line x1="279.8" y1="307.38" x2="277.5" y2="307.38" stroke="#222" stroke-width="1.15"/>
<line x1="279.8" y1="306" x2="275.8" y2="306" stroke="#222" stroke-width="1.15"/>
<line x1="279.8" y1="296.89" x2="277.5" y2="296.89" stroke="#222" stroke-width="1.15"/>
<line x1="279.8" y1="291.57" x2="277.5" y2="291.57" stroke="#222" stroke-width="1.15"/>
<line x1="279.8" y1="287.79" x2="277.5" y2="287.79" stroke="#222" stroke-width="1.15"/>
<line x1="279.8" y1="284.86" x2="277.5" y2="284.86" stroke="#222" stroke-width="1.15"/>
<line x1="279.8" y1="282.46" x2="277.5" y2="282.46" stroke="#222" stroke-width="1.15"/>
<line x1="279.8" y1="280.44" x2="277.5" y2="280.44" stroke="#222" stroke-width="1.15"/>
<line x1="279.8" y1="278.68" x2="277.5" y2="278.68" stroke="#222" stroke-width="1.15"/>
<line x1="279.8" y1="277.13" x2="277.5" y2="277.13" stroke="#222" stroke-width="1.15"/>
<line x1="279.8" y1="275.75" x2="275.8" y2="275.75" stroke="#222" stroke-width="1.15"/>
<line x1="279.8" y1="266.64" x2="277.5" y2="266.64" stroke="#222" stroke-width="1.15"/>
<line x1="279.8" y1="261.32" x2="277.5" y2="261.32" stroke="#222" stroke-width="1.15"/>
<line x1="279.8" y1="257.54" x2="277.5" y2="257.54" stroke="#222" stroke-width="1.15"/>
<line x1="279.8" y1="254.61" x2="277.5" y2="254.61" stroke="#222" stroke-width="1.15"/>
<line x1="279.8" y1="252.21" x2="277.5" y2="252.21" stroke="#222" stroke-width="1.15"/>
<line x1="279.8" y1="250.19" x2="277.5" y2="250.19" stroke="#222" stroke-width="1.15"/>
<line x1="279.8" y1="248.43" x2="277.5" y2="248.43" stroke="#222" stroke-width="1.15"/>
<line x1="279.8" y1="246.88" x2="277.5" y2="246.88" stroke="#222" stroke-width="1.15"/>
<text transform="translate(285.8,430) scale(1.05,1)" font-size="12" fill="#111">10<tspan dy="-5.6" font-size="8.8">5</tspan></text>
<text transform="translate(285.8,402.55) scale(1.05,1)" font-size="12" fill="#111">10<tspan dy="-5.6" font-size="8.8">6</tspan></text>
<text transform="translate(285.8,372.3) scale(1.05,1)" font-size="12" fill="#111">10<tspan dy="-5.6" font-size="8.8">7</tspan></text>
<text transform="translate(285.8,342.05) scale(1.05,1)" font-size="12" fill="#111">10<tspan dy="-5.6" font-size="8.8">8</tspan></text>
<text transform="translate(285.8,311.8) scale(1.05,1)" font-size="12" fill="#111">10<tspan dy="-5.6" font-size="8.8">9</tspan></text>
<text transform="translate(285.8,281.55) scale(1.05,1)" font-size="12" fill="#111">10<tspan dy="-5.6" font-size="8.8">10</tspan></text>
<text transform="translate(285.8,251.3) scale(1.05,1)" font-size="12" fill="#111">10<tspan dy="-5.6" font-size="8.8">11</tspan></text>
<text transform="translate(167.4,460.9)" font-size="12.8" text-anchor="middle" fill="#111">No. of days</text>
<text transform="translate(16.2,335.8) rotate(-90)" font-size="12.8" text-anchor="middle" fill="#111">Mobility (cm<tspan dy="-4.8" font-size="8.5">2</tspan><tspan dy="4.8"> V</tspan><tspan dy="-4.8" font-size="8.5">−1</tspan><tspan dy="4.8"> s</tspan><tspan dy="-4.8" font-size="8.5">−1</tspan><tspan dy="4.8">)</tspan></text>
<text transform="translate(322,335.9) rotate(-90)" font-size="13" text-anchor="middle" fill="#111">On/off ratio</text>
<polyline points="64.1,259.5 85.6,260.5 99.2,264.4 131.4,271 166.6,271.3 207.2,275.3 269.2,285.3" fill="none" stroke="#a040a0" stroke-width="0.9" stroke-linejoin="round"/>
<polygon points="64.1,255.8 59.9,262.7 68.3,262.7" fill="#fff" stroke="#8a1a8a" stroke-width="1.2" stroke-linejoin="miter"/>
<polygon points="85.6,256.8 81.4,263.7 89.8,263.7" fill="#fff" stroke="#8a1a8a" stroke-width="1.2" stroke-linejoin="miter"/>
<polygon points="99.2,260.7 95,267.6 103.4,267.6" fill="#fff" stroke="#8a1a8a" stroke-width="1.2" stroke-linejoin="miter"/>
<polygon points="131.4,267.3 127.2,274.2 135.6,274.2" fill="#fff" stroke="#8a1a8a" stroke-width="1.2" stroke-linejoin="miter"/>
<polygon points="166.6,267.6 162.4,274.5 170.8,274.5" fill="#fff" stroke="#8a1a8a" stroke-width="1.2" stroke-linejoin="miter"/>
<polygon points="207.2,271.6 203,278.5 211.4,278.5" fill="#fff" stroke="#8a1a8a" stroke-width="1.2" stroke-linejoin="miter"/>
<polygon points="269.2,281.6 265,288.5 273.4,288.5" fill="#fff" stroke="#8a1a8a" stroke-width="1.2" stroke-linejoin="miter"/>
<polyline points="63.8,405.8 85.2,406 98.8,406.2 131.1,406.7 166.4,407.2 207.6,408.3 269.2,408.6" fill="none" stroke="#50b050" stroke-width="0.9" stroke-linejoin="round"/>
<polygon points="63.8,409.5 59.6,402.6 68,402.6" fill="#fff" stroke="#2a8a2a" stroke-width="1.2" stroke-linejoin="miter"/>
<polygon points="85.2,409.7 81,402.8 89.4,402.8" fill="#fff" stroke="#2a8a2a" stroke-width="1.2" stroke-linejoin="miter"/>
<polygon points="98.8,409.9 94.6,403 103,403" fill="#fff" stroke="#2a8a2a" stroke-width="1.2" stroke-linejoin="miter"/>
<polygon points="131.1,410.4 126.9,403.5 135.3,403.5" fill="#fff" stroke="#2a8a2a" stroke-width="1.2" stroke-linejoin="miter"/>
<polygon points="166.4,410.9 162.2,404 170.6,404" fill="#fff" stroke="#2a8a2a" stroke-width="1.2" stroke-linejoin="miter"/>
<polygon points="207.6,412 203.4,405.1 211.8,405.1" fill="#fff" stroke="#2a8a2a" stroke-width="1.2" stroke-linejoin="miter"/>
<polygon points="269.2,412.3 265,405.4 273.4,405.4" fill="#fff" stroke="#2a8a2a" stroke-width="1.2" stroke-linejoin="miter"/>
<ellipse cx="228.3" cy="408" rx="10" ry="8.9" fill="none" stroke="#2a8a2a" stroke-width="1.1"/>
<path d="M235.2,416.4 Q248,419.8 259.5,419.3" fill="none" stroke="#2a8a2a" stroke-width="1.2"/>
<polygon points="264.6,419.2 258.6,416.4 258.6,422.0" fill="#2a8a2a"/>
<rect x="55.4" y="245.5" width="224.4" height="181.5" fill="none" stroke="#222" stroke-width="1.3"/>
<line x1="120.9" y1="370.5" x2="120.9" y2="368.1" stroke="#222" stroke-width="1"/>
<line x1="120.9" y1="290.8" x2="120.9" y2="293.2" stroke="#222" stroke-width="1"/>
<text transform="translate(120.9,382) scale(1.05,1)" font-size="9.4" text-anchor="middle" fill="#111">2</text>
<line x1="149" y1="370.5" x2="149" y2="368.1" stroke="#222" stroke-width="1"/>
<line x1="149" y1="290.8" x2="149" y2="293.2" stroke="#222" stroke-width="1"/>
<text transform="translate(149,382) scale(1.05,1)" font-size="9.4" text-anchor="middle" fill="#111">10</text>
<line x1="177.3" y1="370.5" x2="177.3" y2="368.1" stroke="#222" stroke-width="1"/>
<line x1="177.3" y1="290.8" x2="177.3" y2="293.2" stroke="#222" stroke-width="1"/>
<text transform="translate(177.3,382) scale(1.05,1)" font-size="9.4" text-anchor="middle" fill="#111">30</text>
<line x1="196.1" y1="370.5" x2="196.1" y2="368.1" stroke="#222" stroke-width="1"/>
<line x1="196.1" y1="290.8" x2="196.1" y2="293.2" stroke="#222" stroke-width="1"/>
<text transform="translate(196.1,382) scale(1.05,1)" font-size="9.4" text-anchor="middle" fill="#111">50</text>
<line x1="107" y1="364" x2="109.4" y2="364" stroke="#222" stroke-width="1"/>
<line x1="107" y1="357.4" x2="108.4" y2="357.4" stroke="#222" stroke-width="1"/>
<line x1="107" y1="350.8" x2="108.4" y2="350.8" stroke="#222" stroke-width="1"/>
<line x1="107" y1="344.2" x2="108.4" y2="344.2" stroke="#222" stroke-width="1"/>
<line x1="107" y1="337.6" x2="109.4" y2="337.6" stroke="#222" stroke-width="1"/>
<line x1="107" y1="331" x2="108.4" y2="331" stroke="#222" stroke-width="1"/>
<line x1="107" y1="324.4" x2="108.4" y2="324.4" stroke="#222" stroke-width="1"/>
<line x1="107" y1="317.8" x2="108.4" y2="317.8" stroke="#222" stroke-width="1"/>
<line x1="107" y1="311.2" x2="109.4" y2="311.2" stroke="#222" stroke-width="1"/>
<text transform="translate(103.6,367.4) scale(1.05,1)" font-size="9.4" text-anchor="end" fill="#111">0.00</text>
<text transform="translate(103.6,341) scale(1.05,1)" font-size="9.4" text-anchor="end" fill="#111">0.08</text>
<text transform="translate(103.6,314.6) scale(1.05,1)" font-size="9.4" text-anchor="end" fill="#111">0.16</text>
<line x1="211" y1="364.51" x2="209.6" y2="364.51" stroke="#222" stroke-width="1"/>
<line x1="211" y1="361.01" x2="209.6" y2="361.01" stroke="#222" stroke-width="1"/>
<line x1="211" y1="358.52" x2="209.6" y2="358.52" stroke="#222" stroke-width="1"/>
<line x1="211" y1="356.59" x2="209.6" y2="356.59" stroke="#222" stroke-width="1"/>
<line x1="211" y1="355.01" x2="209.6" y2="355.01" stroke="#222" stroke-width="1"/>
<line x1="211" y1="353.68" x2="209.6" y2="353.68" stroke="#222" stroke-width="1"/>
<line x1="211" y1="352.53" x2="209.6" y2="352.53" stroke="#222" stroke-width="1"/>
<line x1="211" y1="351.51" x2="209.6" y2="351.51" stroke="#222" stroke-width="1"/>
<line x1="211" y1="350.6" x2="208.6" y2="350.6" stroke="#222" stroke-width="1"/>
<line x1="211" y1="344.61" x2="209.6" y2="344.61" stroke="#222" stroke-width="1"/>
<line x1="211" y1="341.11" x2="209.6" y2="341.11" stroke="#222" stroke-width="1"/>
<line x1="211" y1="338.62" x2="209.6" y2="338.62" stroke="#222" stroke-width="1"/>
<line x1="211" y1="336.69" x2="209.6" y2="336.69" stroke="#222" stroke-width="1"/>
<line x1="211" y1="335.11" x2="209.6" y2="335.11" stroke="#222" stroke-width="1"/>
<line x1="211" y1="333.78" x2="209.6" y2="333.78" stroke="#222" stroke-width="1"/>
<line x1="211" y1="332.63" x2="209.6" y2="332.63" stroke="#222" stroke-width="1"/>
<line x1="211" y1="331.61" x2="209.6" y2="331.61" stroke="#222" stroke-width="1"/>
<line x1="211" y1="330.7" x2="208.6" y2="330.7" stroke="#222" stroke-width="1"/>
<line x1="211" y1="324.71" x2="209.6" y2="324.71" stroke="#222" stroke-width="1"/>
<line x1="211" y1="321.21" x2="209.6" y2="321.21" stroke="#222" stroke-width="1"/>
<line x1="211" y1="318.72" x2="209.6" y2="318.72" stroke="#222" stroke-width="1"/>
<line x1="211" y1="316.79" x2="209.6" y2="316.79" stroke="#222" stroke-width="1"/>
<line x1="211" y1="315.21" x2="209.6" y2="315.21" stroke="#222" stroke-width="1"/>
<line x1="211" y1="313.88" x2="209.6" y2="313.88" stroke="#222" stroke-width="1"/>
<line x1="211" y1="312.73" x2="209.6" y2="312.73" stroke="#222" stroke-width="1"/>
<line x1="211" y1="311.71" x2="209.6" y2="311.71" stroke="#222" stroke-width="1"/>
<line x1="211" y1="310.8" x2="208.6" y2="310.8" stroke="#222" stroke-width="1"/>
<line x1="211" y1="304.81" x2="209.6" y2="304.81" stroke="#222" stroke-width="1"/>
<line x1="211" y1="301.31" x2="209.6" y2="301.31" stroke="#222" stroke-width="1"/>
<line x1="211" y1="298.82" x2="209.6" y2="298.82" stroke="#222" stroke-width="1"/>
<line x1="211" y1="296.89" x2="209.6" y2="296.89" stroke="#222" stroke-width="1"/>
<line x1="211" y1="295.31" x2="209.6" y2="295.31" stroke="#222" stroke-width="1"/>
<line x1="211" y1="293.98" x2="209.6" y2="293.98" stroke="#222" stroke-width="1"/>
<line x1="211" y1="292.83" x2="209.6" y2="292.83" stroke="#222" stroke-width="1"/>
<line x1="211" y1="291.81" x2="209.6" y2="291.81" stroke="#222" stroke-width="1"/>
<text transform="translate(215.6,373.9) scale(1.05,1)" font-size="9.4" fill="#111">10<tspan dy="-4" font-size="6.8">2</tspan></text>
<text transform="translate(215.6,355.6) scale(1.05,1)" font-size="9.4" fill="#111">10<tspan dy="-4" font-size="6.8">3</tspan></text>
<text transform="translate(215.6,335.7) scale(1.05,1)" font-size="9.4" fill="#111">10<tspan dy="-4" font-size="6.8">4</tspan></text>
<text transform="translate(215.6,315.8) scale(1.05,1)" font-size="9.4" fill="#111">10<tspan dy="-4" font-size="6.8">5</tspan></text>
<text transform="translate(215.6,295.9) scale(1.05,1)" font-size="9.4" fill="#111">10<tspan dy="-4" font-size="6.8">6</tspan></text>
<text transform="translate(158.8,394.2)" font-size="9.3" text-anchor="middle" fill="#111">No. of days</text>
<text transform="translate(81.8,331) rotate(-90)" font-size="9.3" text-anchor="middle" fill="#111">Mobility (cm<tspan dy="-3.8" font-size="6.6">2</tspan><tspan dy="3.8"> V</tspan><tspan dy="-3.8" font-size="6.6">−1</tspan><tspan dy="3.8"> s</tspan><tspan dy="-3.8" font-size="6.6">−1</tspan><tspan dy="3.8">)</tspan></text>
<text transform="translate(240.2,330) rotate(-90)" font-size="9.1" text-anchor="middle" fill="#111">On/off ratio</text>
<polyline points="111.3,300.5 121.2,300.5 128.2,300.5 142.9,302 158.9,308.8 178,320.5 207,360.1" fill="none" stroke="#33a033" stroke-width="0.9" stroke-linejoin="round"/>
<polyline points="110.9,308.6 120.9,309.4 127.8,310.6 142.3,312.4 158.5,325.6 176.7,347.9 207,364" fill="none" stroke="#9a2a9a" stroke-width="0.9" stroke-linejoin="round"/>
<polygon points="111.3,303.35 108.2,297.94 114.4,297.94" fill="#d8f0d8" stroke="#2a8a2a" stroke-width="0.9"/>
<polygon points="111.3,303.35 111.3,297.94 114.4,297.94" fill="#2a8a2a"/>
<polygon points="121.2,303.35 118.1,297.94 124.3,297.94" fill="#d8f0d8" stroke="#2a8a2a" stroke-width="0.9"/>
<polygon points="121.2,303.35 121.2,297.94 124.3,297.94" fill="#2a8a2a"/>
<polygon points="128.2,303.35 125.1,297.94 131.3,297.94" fill="#d8f0d8" stroke="#2a8a2a" stroke-width="0.9"/>
<polygon points="128.2,303.35 128.2,297.94 131.3,297.94" fill="#2a8a2a"/>
<polygon points="142.9,304.85 139.8,299.44 146,299.44" fill="#d8f0d8" stroke="#2a8a2a" stroke-width="0.9"/>
<polygon points="142.9,304.85 142.9,299.44 146,299.44" fill="#2a8a2a"/>
<polygon points="158.9,311.65 155.8,306.24 162,306.24" fill="#d8f0d8" stroke="#2a8a2a" stroke-width="0.9"/>
<polygon points="158.9,311.65 158.9,306.24 162,306.24" fill="#2a8a2a"/>
<polygon points="178,323.35 174.9,317.94 181.1,317.94" fill="#d8f0d8" stroke="#2a8a2a" stroke-width="0.9"/>
<polygon points="178,323.35 178,317.94 181.1,317.94" fill="#2a8a2a"/>
<polygon points="207,362.95 203.9,357.54 210.1,357.54" fill="#d8f0d8" stroke="#2a8a2a" stroke-width="0.9"/>
<polygon points="207,362.95 207,357.54 210.1,357.54" fill="#2a8a2a"/>
<polygon points="110.9,305.75 107.8,311.17 114,311.17" fill="#f0d8f0" stroke="#8a1a8a" stroke-width="0.9"/>
<polygon points="110.9,305.75 110.9,311.17 114,311.17" fill="#8a1a8a"/>
<polygon points="120.9,306.55 117.8,311.96 124,311.96" fill="#f0d8f0" stroke="#8a1a8a" stroke-width="0.9"/>
<polygon points="120.9,306.55 120.9,311.96 124,311.96" fill="#8a1a8a"/>
<polygon points="127.8,307.75 124.7,313.17 130.9,313.17" fill="#f0d8f0" stroke="#8a1a8a" stroke-width="0.9"/>
<polygon points="127.8,307.75 127.8,313.17 130.9,313.17" fill="#8a1a8a"/>
<polygon points="142.3,309.55 139.2,314.96 145.4,314.96" fill="#f0d8f0" stroke="#8a1a8a" stroke-width="0.9"/>
<polygon points="142.3,309.55 142.3,314.96 145.4,314.96" fill="#8a1a8a"/>
<polygon points="158.5,322.75 155.4,328.17 161.6,328.17" fill="#f0d8f0" stroke="#8a1a8a" stroke-width="0.9"/>
<polygon points="158.5,322.75 158.5,328.17 161.6,328.17" fill="#8a1a8a"/>
<polygon points="176.7,345.05 173.6,350.46 179.8,350.46" fill="#f0d8f0" stroke="#8a1a8a" stroke-width="0.9"/>
<polygon points="176.7,345.05 176.7,350.46 179.8,350.46" fill="#8a1a8a"/>
<polygon points="207,361.15 203.9,366.56 210.1,366.56" fill="#f0d8f0" stroke="#8a1a8a" stroke-width="0.9"/>
<polygon points="207,361.15 207,366.56 210.1,366.56" fill="#8a1a8a"/>
<ellipse cx="160.6" cy="309" rx="7.7" ry="7.8" fill="none" stroke="#2a8a2a" stroke-width="1.25"/>
<line x1="168.4" y1="309" x2="187.1" y2="309" stroke="#1f8a1f" stroke-width="1.5"/>
<polygon points="191.8,309 186.6,311.9 186.6,306.1" fill="#1f8a1f"/>
<ellipse cx="167.4" cy="337.6" rx="8" ry="8.8" fill="none" stroke="#8a1a8a" stroke-width="1.25"/>
<line x1="159.4" y1="339" x2="143" y2="339" stroke="#7a167a" stroke-width="1.5"/>
<polygon points="138.3,339 143.5,336.1 143.5,341.9" fill="#7a167a"/>
<rect x="107" y="290.8" width="104" height="79.7" fill="none" stroke="#222" stroke-width="1.1"/>
<text transform="translate(349.8,247.8)" font-size="17.5" font-weight="bold" fill="#000">d</text>
<rect x="400.6" y="399.05" width="11.53" height="27.95" fill="#1612a4"/>
<rect x="425.27" y="371.1" width="11.53" height="55.9" fill="#1612a4"/>
<rect x="449.93" y="399.05" width="11.53" height="27.95" fill="#1612a4"/>
<rect x="474.6" y="399.05" width="11.53" height="27.95" fill="#1612a4"/>
<rect x="499.26" y="371.1" width="11.53" height="55.9" fill="#1612a4"/>
<rect x="523.93" y="371.1" width="11.53" height="55.9" fill="#1612a4"/>
<rect x="548.6" y="287.25" width="11.53" height="139.75" fill="#1612a4"/>
<rect x="573.26" y="315.2" width="11.53" height="111.8" fill="#1612a4"/>
<rect x="597.93" y="371.1" width="11.53" height="55.9" fill="#1612a4"/>
<rect x="511.3" y="371.1" width="11.73" height="55.9" fill="url(#hatch)"/>
<rect x="535.96" y="399.05" width="11.73" height="27.95" fill="url(#hatch)"/>
<rect x="560.63" y="315.2" width="11.73" height="111.8" fill="url(#hatch)"/>
<rect x="585.29" y="287.25" width="11.73" height="139.75" fill="url(#hatch2)"/>
<rect x="609.96" y="259.3" width="11.73" height="167.7" fill="url(#hatch)"/>
<rect x="634.63" y="371.1" width="11.73" height="55.9" fill="url(#hatch)"/>
<line x1="400" y1="427" x2="400" y2="424.8" stroke="#222" stroke-width="1"/>
<line x1="418.5" y1="427" x2="418.5" y2="425.4" stroke="#222" stroke-width="1"/>
<line x1="437" y1="427" x2="437" y2="424.8" stroke="#222" stroke-width="1"/>
<line x1="455.5" y1="427" x2="455.5" y2="425.4" stroke="#222" stroke-width="1"/>
<line x1="474" y1="427" x2="474" y2="424.8" stroke="#222" stroke-width="1"/>
<line x1="492.5" y1="427" x2="492.5" y2="425.4" stroke="#222" stroke-width="1"/>
<line x1="511" y1="427" x2="511" y2="424.8" stroke="#222" stroke-width="1"/>
<line x1="529.5" y1="427" x2="529.5" y2="425.4" stroke="#222" stroke-width="1"/>
<line x1="548" y1="427" x2="548" y2="424.8" stroke="#222" stroke-width="1"/>
<line x1="566.5" y1="427" x2="566.5" y2="425.4" stroke="#222" stroke-width="1"/>
<line x1="585" y1="427" x2="585" y2="424.8" stroke="#222" stroke-width="1"/>
<line x1="603.49" y1="427" x2="603.49" y2="425.4" stroke="#222" stroke-width="1"/>
<line x1="621.99" y1="427" x2="621.99" y2="424.8" stroke="#222" stroke-width="1"/>
<line x1="640.49" y1="427" x2="640.49" y2="425.4" stroke="#222" stroke-width="1"/>
<text transform="translate(400,443.2) scale(1.05,1)" font-size="12" text-anchor="middle" fill="#111">0.00</text>
<text transform="translate(437,443.2) scale(1.05,1)" font-size="12" text-anchor="middle" fill="#111">0.03</text>
<text transform="translate(474,443.2) scale(1.05,1)" font-size="12" text-anchor="middle" fill="#111">0.06</text>
<text transform="translate(511,443.2) scale(1.05,1)" font-size="12" text-anchor="middle" fill="#111">0.09</text>
<text transform="translate(548,443.2) scale(1.05,1)" font-size="12" text-anchor="middle" fill="#111">0.12</text>
<text transform="translate(585,443.2) scale(1.05,1)" font-size="12" text-anchor="middle" fill="#111">0.15</text>
<text transform="translate(621.99,443.2) scale(1.05,1)" font-size="12" text-anchor="middle" fill="#111">0.18</text>
<line x1="397.9" y1="427" x2="394.3" y2="427" stroke="#222" stroke-width="1.1"/>
<line x1="397.9" y1="413.02" x2="395.7" y2="413.02" stroke="#222" stroke-width="1.1"/>
<line x1="397.9" y1="399.05" x2="394.3" y2="399.05" stroke="#222" stroke-width="1.1"/>
<line x1="397.9" y1="385.07" x2="395.7" y2="385.07" stroke="#222" stroke-width="1.1"/>
<line x1="397.9" y1="371.1" x2="394.3" y2="371.1" stroke="#222" stroke-width="1.1"/>
<line x1="397.9" y1="357.12" x2="395.7" y2="357.12" stroke="#222" stroke-width="1.1"/>
<line x1="397.9" y1="343.15" x2="394.3" y2="343.15" stroke="#222" stroke-width="1.1"/>
<line x1="397.9" y1="329.18" x2="395.7" y2="329.18" stroke="#222" stroke-width="1.1"/>
<line x1="397.9" y1="315.2" x2="394.3" y2="315.2" stroke="#222" stroke-width="1.1"/>
<line x1="397.9" y1="301.23" x2="395.7" y2="301.23" stroke="#222" stroke-width="1.1"/>
<line x1="397.9" y1="287.25" x2="394.3" y2="287.25" stroke="#222" stroke-width="1.1"/>
<line x1="397.9" y1="273.27" x2="395.7" y2="273.27" stroke="#222" stroke-width="1.1"/>
<line x1="397.9" y1="259.3" x2="394.3" y2="259.3" stroke="#222" stroke-width="1.1"/>
<text transform="translate(388.9,431.1) scale(1.05,1)" font-size="12" text-anchor="end" fill="#111">0</text>
<text transform="translate(388.9,403.15) scale(1.05,1)" font-size="12" text-anchor="end" fill="#111">1</text>
<text transform="translate(388.9,375.2) scale(1.05,1)" font-size="12" text-anchor="end" fill="#111">2</text>
<text transform="translate(388.9,347.25) scale(1.05,1)" font-size="12" text-anchor="end" fill="#111">3</text>
<text transform="translate(388.9,319.3) scale(1.05,1)" font-size="12" text-anchor="end" fill="#111">4</text>
<text transform="translate(388.9,291.35) scale(1.05,1)" font-size="12" text-anchor="end" fill="#111">5</text>
<text transform="translate(388.9,263.4) scale(1.05,1)" font-size="12" text-anchor="end" fill="#111">6</text>
<text transform="translate(522.9,460)" font-size="12.8" text-anchor="middle" fill="#111">Hole mobility (cm<tspan dy="-4.8" font-size="8.5">2</tspan><tspan dy="4.8"> V</tspan><tspan dy="-4.8" font-size="8.5">−1</tspan><tspan dy="4.8"> s</tspan><tspan dy="-4.8" font-size="8.5">−1</tspan><tspan dy="4.8">)</tspan></text>
<text transform="translate(372.3,336) rotate(-90)" font-size="12.8" text-anchor="middle" fill="#111">Count</text>
<rect x="413" y="256.2" width="19" height="7.8" fill="#1612a4"/>
<rect x="413" y="268.4" width="19" height="8.2" fill="url(#hatch)"/>
<text transform="translate(438.8,264.3) scale(1.03,1)" font-size="10.6" fill="#111">Without PMMA</text>
<text transform="translate(438.8,276.6) scale(1.03,1)" font-size="10.6" fill="#111">With PMMA</text>
<line x1="397.9" y1="245.6" x2="397.9" y2="427" stroke="#333" stroke-width="1.1"/>
<line x1="395.7" y1="245.6" x2="650" y2="245.6" stroke="#222" stroke-width="1.2"/>
<line x1="394" y1="427" x2="650" y2="427" stroke="#111" stroke-width="1.2"/>
<line x1="649.4" y1="245.6" x2="649.4" y2="427" stroke="#333" stroke-width="1.2"/>
</svg>
</body></html>
